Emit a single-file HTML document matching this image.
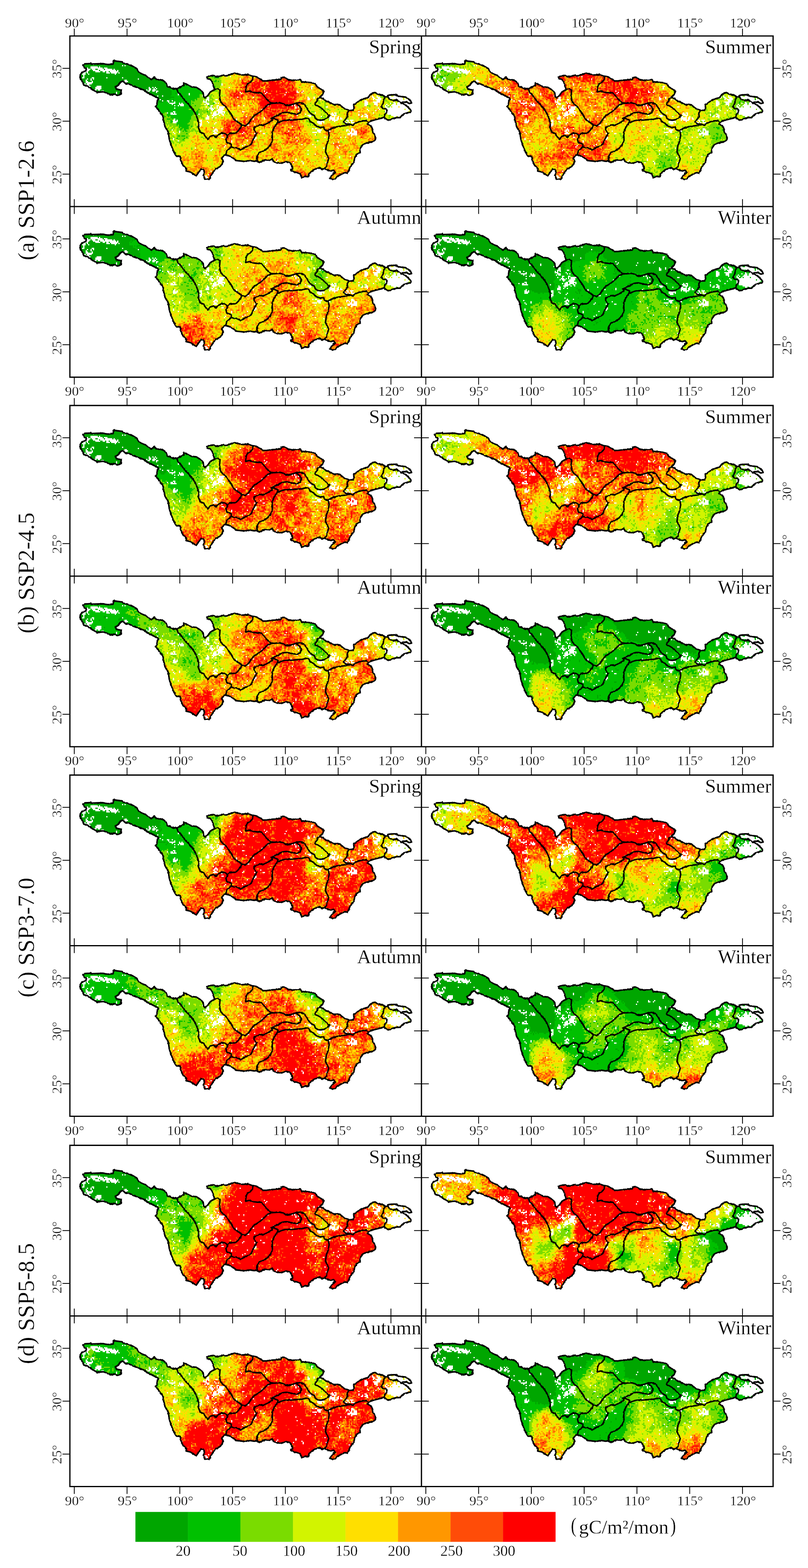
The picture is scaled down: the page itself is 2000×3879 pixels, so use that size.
<!DOCTYPE html>
<html lang="en"><head><meta charset="utf-8"><title>Seasonal maps</title>
<style>html,body{margin:0;padding:0;background:#fff}body{width:2000px;height:3879px;overflow:hidden}svg{display:block}text{font-family:'Liberation Serif', serif;fill:#000;stroke:#fff;stroke-width:0.45px}</style></head><body>
<svg width="2000" height="3879" viewBox="0 0 2000 3879">
<rect width="2000" height="3879" fill="#fff"/>
<defs>
<path id="op" d="M31.9,71.5 36.5,68.6 47.8,68.1 51.2,66.3 52.3,69.2 65.8,68.6 81.6,68.1 92.9,70.4 106.5,69.2 108.3,60.2 113.3,61.8 129.1,63.6 132.5,67 142.6,69.2 153.9,73.8 165.2,80.5 169.8,88.4 178.8,94.1 187.8,97.5 194.6,103.1 201.4,107.6 209.3,100.9 213.8,107.6 221.7,107.6 230.7,109.9 237.5,115.5 240.9,124.6 246.6,126.4 255.6,130.2 264.6,130.2 281,122.3 282.1,115.5 292.3,121.2 301.3,125.7 312.6,126.8 323.9,133.6 329.6,140.4 330.7,149.4 334.1,152.8 342,146 347.6,138.1 353.3,134.8 357.8,132.5 355.5,124.6 352.1,113.3 346.5,106.5 339.7,105.4 338.6,102 344.2,98.6 355.5,97.5 364.6,100.9 373.6,98.6 380.4,96.3 387.2,98.6 396.2,95.2 407.5,91.8 416.5,94.1 427.8,96.3 439.1,95.2 450.4,98.6 461.7,100.9 470.7,106.5 477.5,111 487.4,110.7 498.7,108.9 510,108.4 521.3,107.3 523.6,102.8 530.4,101.7 539.4,107.3 550.7,109.6 562,108.4 569.9,107.3 573.3,113 584.6,114.1 598.1,115.2 607.2,118.6 611.7,125.4 620.7,131 628.6,136.7 625.2,144.1 618.4,150.9 627.4,155.4 634.2,161 641,163.3 646.6,166.7 654.5,170.1 661.3,168.9 668.1,170.1 674.9,176.8 681.6,180.2 690.7,183.6 699.7,183.6 703.1,178 702,170.1 708.8,165.5 717.8,158.8 729.1,154.3 738.1,152 742.6,145.2 749.4,140.7 755.1,139.6 760.7,143 769.8,145.2 776.5,147.5 781,150.9 786.7,149.7 787.8,146.3 799.1,145.2 808.2,145.2 810.4,148.6 821.7,149.7 830.7,150.9 837.5,155.4 843.2,159.9 845.4,165.5 839.8,166.7 833,163.3 824,163.3 819.4,165.5 828.5,168.9 835.3,174.6 842,181.4 844.3,187 837.5,189.3 828.5,191.5 821.7,196 817.2,201.7 808.2,201.7 799.1,204 792.3,207.3 785.6,207.3 781,204 777.7,200.6 772,202.8 763,205.1 753.9,207.3 744.9,209.6 740.4,213 735.9,217.5 744.9,222 748.3,228.8 749.4,237.8 755.1,244.6 756.2,255.9 751.7,260.4 742.6,262.7 733.6,264.9 726.8,267.2 720.1,274 717.8,283 718.2,288.1 709.1,292.7 704.6,301.7 702.4,313 697.9,317.5 692.2,326.5 689.9,333.3 686.6,339 679.8,337.8 670.7,342.4 661.7,346.9 657.2,352.5 650.4,354.8 643.6,351.4 645.9,346.9 650.4,342.4 656.1,336.7 652.7,332.2 643.6,333.3 636.9,331.1 630.1,327.7 623.3,329.9 618.8,325.4 614.3,326.5 605.2,329.9 598.5,334.4 591.7,340.1 589.4,348 580.4,346.9 573.6,350.3 570.2,341.2 562.3,337.8 553.3,335.6 546.5,331.1 551,326.5 548.8,319.8 544.2,313 535.2,310.7 523.9,314.1 512.6,314.1 503.6,309.6 500.2,304 494.5,307.3 485.5,306.2 476.5,308.5 468.6,313 462.9,308.5 456.1,309.6 444.3,307.8 433,310.1 421.7,309 410.4,307.8 405.9,303.3 396.9,297.7 387.8,294.3 382.2,294.3 375.4,302.2 378.8,307.8 376.5,316.9 369.8,323.7 360.7,328.2 353.9,337.2 348.3,346.2 344.9,354.8 340.4,353 333.6,354.1 330.2,344 332.5,339.5 331.3,329.3 324.6,329.3 320.1,334.9 312.1,345.8 306.5,341.7 297.5,336.1 287.3,333.8 288.4,328.2 279.4,319.1 274.9,310.1 272.6,297.7 262.4,296.5 255.7,283 250,269.4 245.5,253.6 243.2,237.8 235.3,224.3 231.9,210.7 229.7,197.1 220.7,185.8 212.7,174.6 211.5,174.3 214.9,169.8 216.1,160.7 218.3,154 210.4,149.4 199.1,143.8 190.1,139.3 183.3,133.6 174.3,130.2 165.2,126.8 156.2,123.5 147.2,118.9 138.1,117.8 130.2,111 123.4,115.5 120.1,121.2 112.1,125.7 115.5,131.4 126.8,133.6 125.7,143.8 117.8,146.7 111,143.8 102,145.4 92.9,141.5 81.6,137.7 68.1,139.3 63.6,137 52.3,130.2 43.2,123.5 34.2,121.2 30.8,113.3 26.3,106.5 25.2,96.3 29.7,89.6 38.7,86.2 41,80.5 35.3,78.3Z"/>
<clipPath id="bc0"><use href="#op" x="0.00" y="0.00"/></clipPath>
<clipPath id="bc1"><use href="#op" x="0.20" y="0.00"/></clipPath>
<clipPath id="bc2"><use href="#op" x="0.00" y="0.05"/></clipPath>
<clipPath id="bc3"><use href="#op" x="0.20" y="0.05"/></clipPath>
<clipPath id="bc4"><use href="#op" x="0.00" y="0.15"/></clipPath>
<clipPath id="bc5"><use href="#op" x="0.20" y="0.15"/></clipPath>
<clipPath id="bc6"><use href="#op" x="0.00" y="0.20"/></clipPath>
<clipPath id="bc7"><use href="#op" x="0.20" y="0.20"/></clipPath>
<clipPath id="bc8"><use href="#op" x="0.00" y="0.40"/></clipPath>
<clipPath id="bc9"><use href="#op" x="0.20" y="0.40"/></clipPath>
<clipPath id="bc10"><use href="#op" x="0.00" y="0.45"/></clipPath>
<clipPath id="bc11"><use href="#op" x="0.20" y="0.45"/></clipPath>
<clipPath id="bc12"><use href="#op" x="0.00" y="0.40"/></clipPath>
<clipPath id="bc13"><use href="#op" x="0.20" y="0.40"/></clipPath>
<clipPath id="bc14"><use href="#op" x="0.00" y="0.45"/></clipPath>
<clipPath id="bc15"><use href="#op" x="0.20" y="0.45"/></clipPath>
<g id="ol" fill="none" stroke="#000" stroke-linejoin="round" stroke-linecap="round"><use href="#op" stroke-width="3.9"/>
<path stroke-width="3.7" d="M264.6,130.2 266.9,138.1 273.7,144.9 281.6,156.2 285,161 292.9,167.8 302,179.1 309.9,190.4 315.5,203.9 318.9,215.2 317.8,226.5 322.3,237.8 331.3,241.2 334.7,249.1 341.5,255.9 347.2,248 355.1,245.7 360.7,250.2 368.6,243.5 374.3,240.1 381,240.1 386.7,242.8 390.5,246.4 M357.8,132.5 364.6,130.2 371.3,133.6 370.2,147.2 371.3,158.5 377,167.5 384.9,174.3 391.7,183.3 398.5,192.4 403,201.4 409.8,209.3 418.8,214.9 424.4,219.5 422.8,226.5 417.2,233.3 410.4,240.1 401.4,240.5 394.6,240.1 390.5,246.4 M390.5,246.4 386,254.8 387.8,262.7 399.1,267.2 399.1,274 394.6,278.5 387.8,284.1 386.7,289.8 385.1,293.8 M399.1,274 405.9,276.2 414.9,277.3 422.8,281.9 430.7,276.2 439.8,272.8 448.8,267.2 453.3,255.9 462.4,240.1 455.6,233.3 455.6,226.5 469.1,219.7 478.2,220.9 489.5,215.2 500.8,208.4 498.7,203.3 501,202.2 507.8,198.8 516.8,194.3 525.8,189.8 534.9,188.6 543.9,189.8 552.9,192 562,193.2 569.9,189.8 572.1,180.7 568.8,174 559.7,166 M424,219.7 433,222 439.8,218.6 446.6,208.4 455.6,197.1 466.9,190.4 478.2,181.3 489.5,170 498.5,166.6 496.5,164.9 M452.7,99.7 451.5,108.8 445.9,114.4 439.1,117.8 435.7,126.8 434.6,138.1 443.6,135.9 454.9,139.3 464,140.4 473,140.4 479.8,147.2 486.6,156.2 495.6,164.1 496.5,164.9 505.5,166 519.1,164.9 528.1,167.2 534.9,171.7 543.9,170.6 552.9,168.3 559.7,166 568.8,164.9 577.8,167.2 584.6,175.1 589.1,183 593.6,189.8 600.4,194.3 604.9,196.5 607.2,203.3 613.9,207.8 625.2,207.8 634.3,204.4 638.8,199.9 643.3,196.5 638.8,194.3 634.3,189.8 627.5,183 620.7,177.3 613.9,172.8 607.2,170.6 606,167.2 611.7,160.4 613.9,153.6 620.7,151.4 M501,203.3 514.5,207.8 514.9,209.1 512.6,215.8 505.8,224.9 501.3,236.2 500.2,247.5 501.3,258.8 496.8,267.8 492.3,274.6 485.5,280.2 476.5,284.8 468.6,288.1 464,294.9 462.9,304 464,310.7 M512.6,215.8 523.9,210.2 532.9,207.9 546.5,207.9 560.1,206.8 573.6,205.7 584.9,203.4 591.7,204.6 593.9,211.3 603,215.8 609.8,222.6 618.8,226 627.8,224.9 630.1,231.7 639.1,233.9 M639.1,233.9 641.4,245.2 639.1,258.8 634.6,270.1 632.3,285.9 636.9,294.9 640.2,304 636.9,313 635.7,322 630.1,327.7 M636.5,234.9 645.6,229.3 659.1,224.8 670.4,222.5 681.7,221.4 690.7,219.1 692.9,217.5 699.7,220.9 706.5,215.2 715.5,211.9 724.6,209.6 733.6,209.6 740.4,213 M690.7,183.6 686.2,190.4 687.3,199.4 681.6,206.2 677.1,213 681.6,216.4 685,217.5 692.9,217.5 M781,150.9 776.5,156.5 775.4,165.5 770.9,174.6 774.3,179.1 783.3,180.2 784.4,188.1 778.8,194.9 777.7,200.6 M786.7,149.7 790.1,155.4 799.1,159.9 808.2,157.6 814.9,162.2 819.4,165.5"/></g>
<path id="hl" fill="#fff" shape-rendering="crispEdges" d="M81,66h3v3h-3zM57,69h3v3h-3zM141,69h3v3h-3zM129,72h3v3h-3zM135,72h3v3h-3zM51,75h18v3h-18zM72,75h3v3h-3zM39,78h6v3h-6zM51,78h30v3h-30zM84,78h9v3h-9zM33,81h3v3h-3zM42,81h9v3h-9zM54,81h9v3h-9zM69,81h15v3h-15zM87,81h18v3h-18zM108,81h3v3h-3zM36,84h12v3h-12zM57,84h15v3h-15zM75,84h39v3h-39zM117,84h3v3h-3zM30,87h15v3h-15zM63,87h12v3h-12zM81,87h6v3h-6zM90,87h6v3h-6zM99,87h21v3h-21zM33,90h6v3h-6zM42,90h3v3h-3zM90,90h9v3h-9zM102,90h15v3h-15zM120,90h3v3h-3zM30,93h9v3h-9zM45,93h3v3h-3zM111,93h3v3h-3zM186,93h3v3h-3zM33,96h3v3h-3zM33,99h3v3h-3zM207,99h3v3h-3zM387,99h3v3h-3zM396,99h3v3h-3zM30,102h6v3h-6zM54,102h6v3h-6zM90,102h3v3h-3zM129,102h3v3h-3zM42,105h3v3h-3zM51,105h3v3h-3zM57,105h3v3h-3zM168,105h3v3h-3zM420,105h3v3h-3zM471,105h3v3h-3zM39,108h3v3h-3zM51,108h3v3h-3zM135,108h6v3h-6zM39,111h6v3h-6zM54,111h3v3h-3zM132,111h12v3h-12zM39,114h18v3h-18zM135,114h6v3h-6zM30,117h3v3h-3zM36,117h3v3h-3zM42,117h12v3h-12zM120,117h3v3h-3zM375,117h3v3h-3zM30,120h18v3h-18zM375,120h3v3h-3zM33,123h18v3h-18zM66,123h12v3h-12zM597,123h6v3h-6zM42,126h3v3h-3zM63,126h15v3h-15zM195,126h3v3h-3zM204,126h3v3h-3zM210,126h3v3h-3zM393,126h3v3h-3zM597,126h3v3h-3zM63,129h15v3h-15zM195,129h6v3h-6zM207,129h3v3h-3zM213,129h3v3h-3zM597,129h3v3h-3zM57,132h9v3h-9zM69,132h6v3h-6zM177,132h6v3h-6zM189,132h3v3h-3zM195,132h6v3h-6zM204,132h9v3h-9zM60,135h3v3h-3zM78,135h6v3h-6zM192,135h6v3h-6zM204,135h6v3h-6zM213,135h6v3h-6zM480,135h3v3h-3zM561,135h3v3h-3zM576,135h3v3h-3zM114,138h3v3h-3zM189,138h3v3h-3zM213,138h3v3h-3zM420,138h3v3h-3zM486,138h3v3h-3zM534,138h3v3h-3zM561,138h6v3h-6zM573,138h3v3h-3zM87,141h3v3h-3zM114,141h3v3h-3zM267,141h6v3h-6zM294,141h3v3h-3zM423,141h3v3h-3zM483,141h3v3h-3zM111,144h3v3h-3zM267,144h3v3h-3zM294,144h3v3h-3zM531,144h3v3h-3zM795,144h3v3h-3zM117,147h3v3h-3zM204,147h3v3h-3zM216,147h3v3h-3zM228,147h3v3h-3zM327,147h3v3h-3zM741,147h3v3h-3zM747,147h3v3h-3zM759,147h3v3h-3zM789,147h6v3h-6zM801,147h12v3h-12zM339,150h6v3h-6zM414,150h3v3h-3zM453,150h3v3h-3zM588,150h3v3h-3zM603,150h3v3h-3zM615,150h3v3h-3zM738,150h6v3h-6zM747,150h6v3h-6zM759,150h9v3h-9zM789,150h33v3h-33zM339,153h6v3h-6zM588,153h6v3h-6zM603,153h3v3h-3zM738,153h3v3h-3zM750,153h6v3h-6zM762,153h9v3h-9zM792,153h33v3h-33zM828,153h3v3h-3zM837,153h3v3h-3zM222,156h3v3h-3zM336,156h9v3h-9zM360,156h6v3h-6zM588,156h6v3h-6zM618,156h3v3h-3zM624,156h3v3h-3zM750,156h3v3h-3zM756,156h15v3h-15zM804,156h21v3h-21zM828,156h15v3h-15zM228,159h3v3h-3zM240,159h6v3h-6zM252,159h3v3h-3zM330,159h3v3h-3zM336,159h3v3h-3zM342,159h3v3h-3zM729,159h6v3h-6zM759,159h9v3h-9zM810,159h33v3h-33zM243,162h3v3h-3zM258,162h3v3h-3zM330,162h9v3h-9zM357,162h3v3h-3zM729,162h9v3h-9zM750,162h18v3h-18zM801,162h3v3h-3zM813,162h15v3h-15zM837,162h6v3h-6zM246,165h15v3h-15zM270,165h3v3h-3zM276,165h3v3h-3zM336,165h9v3h-9zM360,165h3v3h-3zM366,165h3v3h-3zM729,165h9v3h-9zM753,165h9v3h-9zM792,165h3v3h-3zM801,165h6v3h-6zM810,165h21v3h-21zM252,168h3v3h-3zM270,168h12v3h-12zM333,168h3v3h-3zM339,168h6v3h-6zM555,168h3v3h-3zM729,168h9v3h-9zM753,168h9v3h-9zM783,168h3v3h-3zM798,168h9v3h-9zM810,168h24v3h-24zM258,171h3v3h-3zM267,171h3v3h-3zM273,171h9v3h-9zM348,171h6v3h-6zM363,171h6v3h-6zM417,171h3v3h-3zM429,171h3v3h-3zM489,171h3v3h-3zM549,171h3v3h-3zM555,171h3v3h-3zM729,171h6v3h-6zM759,171h3v3h-3zM780,171h3v3h-3zM786,171h3v3h-3zM795,171h42v3h-42zM336,174h3v3h-3zM348,174h3v3h-3zM363,174h3v3h-3zM369,174h15v3h-15zM558,174h3v3h-3zM564,174h3v3h-3zM633,174h6v3h-6zM780,174h6v3h-6zM792,174h3v3h-3zM798,174h15v3h-15zM816,174h24v3h-24zM258,177h3v3h-3zM345,177h9v3h-9zM357,177h3v3h-3zM363,177h3v3h-3zM369,177h12v3h-12zM558,177h3v3h-3zM762,177h3v3h-3zM783,177h57v3h-57zM342,180h3v3h-3zM348,180h9v3h-9zM366,180h15v3h-15zM474,180h3v3h-3zM735,180h3v3h-3zM765,180h3v3h-3zM780,180h48v3h-48zM831,180h9v3h-9zM351,183h3v3h-3zM363,183h15v3h-15zM564,183h3v3h-3zM738,183h3v3h-3zM756,183h3v3h-3zM780,183h60v3h-60zM843,183h3v3h-3zM255,186h6v3h-6zM357,186h6v3h-6zM366,186h18v3h-18zM426,186h6v3h-6zM714,186h3v3h-3zM780,186h57v3h-57zM840,186h3v3h-3zM240,189h3v3h-3zM249,189h6v3h-6zM258,189h3v3h-3zM348,189h3v3h-3zM354,189h9v3h-9zM366,189h12v3h-12zM381,189h3v3h-3zM606,189h3v3h-3zM648,189h3v3h-3zM654,189h6v3h-6zM750,189h3v3h-3zM780,189h60v3h-60zM249,192h15v3h-15zM318,192h3v3h-3zM354,192h15v3h-15zM375,192h6v3h-6zM582,192h3v3h-3zM645,192h9v3h-9zM657,192h3v3h-3zM714,192h3v3h-3zM729,192h6v3h-6zM786,192h39v3h-39zM831,192h3v3h-3zM339,195h3v3h-3zM351,195h12v3h-12zM369,195h3v3h-3zM378,195h3v3h-3zM561,195h3v3h-3zM588,195h12v3h-12zM642,195h3v3h-3zM648,195h12v3h-12zM714,195h3v3h-3zM723,195h3v3h-3zM732,195h6v3h-6zM795,195h27v3h-27zM339,198h6v3h-6zM354,198h3v3h-3zM435,198h3v3h-3zM504,198h6v3h-6zM591,198h6v3h-6zM621,198h3v3h-3zM639,198h9v3h-9zM654,198h3v3h-3zM663,198h3v3h-3zM720,198h6v3h-6zM729,198h9v3h-9zM801,198h6v3h-6zM810,198h6v3h-6zM336,201h9v3h-9zM351,201h3v3h-3zM360,201h3v3h-3zM480,201h3v3h-3zM642,201h15v3h-15zM660,201h6v3h-6zM669,201h3v3h-3zM735,201h3v3h-3zM258,204h3v3h-3zM336,204h9v3h-9zM411,204h3v3h-3zM453,204h3v3h-3zM480,204h3v3h-3zM546,204h3v3h-3zM642,204h15v3h-15zM660,204h6v3h-6zM669,204h6v3h-6zM255,207h6v3h-6zM264,207h3v3h-3zM321,207h6v3h-6zM411,207h3v3h-3zM618,207h3v3h-3zM642,207h3v3h-3zM648,207h15v3h-15zM684,207h6v3h-6zM693,207h9v3h-9zM255,210h12v3h-12zM321,210h6v3h-6zM339,210h3v3h-3zM414,210h3v3h-3zM612,210h18v3h-18zM654,210h3v3h-3zM678,210h3v3h-3zM687,210h3v3h-3zM696,210h3v3h-3zM255,213h9v3h-9zM324,213h3v3h-3zM342,213h3v3h-3zM360,213h3v3h-3zM612,213h12v3h-12zM627,213h3v3h-3zM681,213h6v3h-6zM690,213h3v3h-3zM696,213h9v3h-9zM321,216h6v3h-6zM357,216h3v3h-3zM456,216h3v3h-3zM615,216h9v3h-9zM702,216h3v3h-3zM321,219h6v3h-6zM438,219h6v3h-6zM606,219h3v3h-3zM321,222h3v3h-3zM549,222h3v3h-3zM354,225h3v3h-3zM360,228h3v3h-3zM375,228h3v3h-3zM600,228h3v3h-3zM606,228h6v3h-6zM642,228h3v3h-3zM696,228h6v3h-6zM252,231h3v3h-3zM357,231h9v3h-9zM612,231h12v3h-12zM684,231h6v3h-6zM696,231h9v3h-9zM270,234h3v3h-3zM354,234h6v3h-6zM363,234h3v3h-3zM471,234h3v3h-3zM540,234h3v3h-3zM612,234h9v3h-9zM639,234h6v3h-6zM684,234h3v3h-3zM690,234h3v3h-3zM696,234h3v3h-3zM702,234h9v3h-9zM255,237h3v3h-3zM270,237h3v3h-3zM357,237h6v3h-6zM429,237h3v3h-3zM600,237h12v3h-12zM615,237h6v3h-6zM693,237h6v3h-6zM702,237h9v3h-9zM750,237h3v3h-3zM258,240h3v3h-3zM354,240h12v3h-12zM426,240h3v3h-3zM456,240h3v3h-3zM477,240h6v3h-6zM687,240h24v3h-24zM375,243h3v3h-3zM606,243h3v3h-3zM687,243h6v3h-6zM696,243h15v3h-15zM696,246h3v3h-3zM375,249h6v3h-6zM456,249h6v3h-6zM558,249h3v3h-3zM630,249h3v3h-3zM669,249h3v3h-3zM681,249h3v3h-3zM255,252h3v3h-3zM453,252h9v3h-9zM255,255h3v3h-3zM456,255h3v3h-3zM267,258h3v3h-3zM399,258h3v3h-3zM438,258h3v3h-3zM561,258h3v3h-3zM612,258h3v3h-3zM399,261h3v3h-3zM663,261h3v3h-3zM651,264h3v3h-3zM432,267h3v3h-3zM573,267h3v3h-3zM600,267h3v3h-3zM384,270h3v3h-3zM426,270h3v3h-3zM666,270h3v3h-3zM381,273h3v3h-3zM606,273h3v3h-3zM660,273h3v3h-3zM309,276h3v3h-3zM627,276h3v3h-3zM663,276h3v3h-3zM351,279h3v3h-3zM348,282h3v3h-3zM588,282h3v3h-3zM402,291h3v3h-3zM588,291h3v3h-3zM606,291h3v3h-3zM666,297h3v3h-3zM693,297h3v3h-3zM630,300h3v3h-3zM666,300h3v3h-3zM558,303h3v3h-3zM513,306h3v3h-3zM558,306h3v3h-3zM276,309h3v3h-3zM510,309h3v3h-3zM573,309h3v3h-3zM702,309h3v3h-3zM552,312h3v3h-3zM576,312h3v3h-3zM633,312h3v3h-3zM699,312h3v3h-3zM576,315h3v3h-3zM276,318h3v3h-3zM690,318h3v3h-3zM330,330h3v3h-3zM348,333h3v3h-3zM342,342h3v3h-3zM333,345h6v3h-6zM336,348h6v3h-6zM336,351h6v3h-6z"/>
<filter id="f0" x="0" y="0" width="873" height="423" filterUnits="userSpaceOnUse" primitiveUnits="userSpaceOnUse" color-interpolation-filters="sRGB"><feGaussianBlur in="SourceGraphic" stdDeviation="8" result="b"/><feTurbulence type="fractalNoise" baseFrequency="0.045" numOctaves="2" seed="3" result="t1"/><feColorMatrix in="t1" type="matrix" values="1 0 0 0 0 1 0 0 0 0 1 0 0 0 0 0 0 0 0 1" result="n1"/><feTurbulence type="fractalNoise" baseFrequency="0.2" numOctaves="2" seed="53" result="t2"/><feColorMatrix in="t2" type="matrix" values="1 0 0 0 0 1 0 0 0 0 1 0 0 0 0 0 0 0 0 1" result="n2"/><feComposite in="n1" in2="n2" operator="arithmetic" k1="0" k2="0.450" k3="0.550" k4="0" result="n"/><feComposite in="b" in2="n" operator="arithmetic" k1="1.850" k2="0.075" k3="-0.190" k4="0.095" result="c"/><feComponentTransfer in="c" result="d"><feFuncR type="discrete" tableValues="0.000 0.000 0.000 0.478 0.824 1.000 1.000 1.000 1.000 1.000 1.000 1.000"/><feFuncG type="discrete" tableValues="0.651 0.651 0.753 0.863 0.957 0.875 0.592 0.298 0.000 0.000 0.000 0.000"/><feFuncB type="discrete" tableValues="0.000 0.000 0.000 0.000 0.000 0.000 0.000 0.031 0.000 0.000 0.000 0.000"/></feComponentTransfer><feFlood x="1" y="1" width="1" height="1" flood-color="#000" result="dot"/><feOffset in="dot" dx="0" dy="0" x="0" y="0" width="3" height="3" result="cell"/><feTile in="cell" result="grid"/><feComposite in="d" in2="grid" operator="in" result="s"/><feMorphology in="s" operator="dilate" radius="1"/></filter>
<filter id="f1" x="0" y="0" width="873" height="423" filterUnits="userSpaceOnUse" primitiveUnits="userSpaceOnUse" color-interpolation-filters="sRGB"><feGaussianBlur in="SourceGraphic" stdDeviation="8" result="b"/><feTurbulence type="fractalNoise" baseFrequency="0.045" numOctaves="2" seed="10" result="t1"/><feColorMatrix in="t1" type="matrix" values="1 0 0 0 0 1 0 0 0 0 1 0 0 0 0 0 0 0 0 1" result="n1"/><feTurbulence type="fractalNoise" baseFrequency="0.2" numOctaves="2" seed="60" result="t2"/><feColorMatrix in="t2" type="matrix" values="1 0 0 0 0 1 0 0 0 0 1 0 0 0 0 0 0 0 0 1" result="n2"/><feComposite in="n1" in2="n2" operator="arithmetic" k1="0" k2="0.450" k3="0.550" k4="0" result="n"/><feComposite in="b" in2="n" operator="arithmetic" k1="1.850" k2="0.075" k3="-0.190" k4="0.095" result="c"/><feComponentTransfer in="c" result="d"><feFuncR type="discrete" tableValues="0.000 0.000 0.000 0.478 0.824 1.000 1.000 1.000 1.000 1.000 1.000 1.000"/><feFuncG type="discrete" tableValues="0.651 0.651 0.753 0.863 0.957 0.875 0.592 0.298 0.000 0.000 0.000 0.000"/><feFuncB type="discrete" tableValues="0.000 0.000 0.000 0.000 0.000 0.000 0.000 0.031 0.000 0.000 0.000 0.000"/></feComponentTransfer><feFlood x="1" y="1" width="1" height="1" flood-color="#000" result="dot"/><feOffset in="dot" dx="0" dy="0" x="0" y="0" width="3" height="3" result="cell"/><feTile in="cell" result="grid"/><feComposite in="d" in2="grid" operator="in" result="s"/><feMorphology in="s" operator="dilate" radius="1"/></filter>
<filter id="f2" x="0" y="0" width="873" height="423" filterUnits="userSpaceOnUse" primitiveUnits="userSpaceOnUse" color-interpolation-filters="sRGB"><feGaussianBlur in="SourceGraphic" stdDeviation="8" result="b"/><feTurbulence type="fractalNoise" baseFrequency="0.045" numOctaves="2" seed="17" result="t1"/><feColorMatrix in="t1" type="matrix" values="1 0 0 0 0 1 0 0 0 0 1 0 0 0 0 0 0 0 0 1" result="n1"/><feTurbulence type="fractalNoise" baseFrequency="0.2" numOctaves="2" seed="67" result="t2"/><feColorMatrix in="t2" type="matrix" values="1 0 0 0 0 1 0 0 0 0 1 0 0 0 0 0 0 0 0 1" result="n2"/><feComposite in="n1" in2="n2" operator="arithmetic" k1="0" k2="0.450" k3="0.550" k4="0" result="n"/><feComposite in="b" in2="n" operator="arithmetic" k1="1.850" k2="0.075" k3="-0.190" k4="0.095" result="c"/><feComponentTransfer in="c" result="d"><feFuncR type="discrete" tableValues="0.000 0.000 0.000 0.478 0.824 1.000 1.000 1.000 1.000 1.000 1.000 1.000"/><feFuncG type="discrete" tableValues="0.651 0.651 0.753 0.863 0.957 0.875 0.592 0.298 0.000 0.000 0.000 0.000"/><feFuncB type="discrete" tableValues="0.000 0.000 0.000 0.000 0.000 0.000 0.000 0.031 0.000 0.000 0.000 0.000"/></feComponentTransfer><feFlood x="1" y="1" width="1" height="1" flood-color="#000" result="dot"/><feOffset in="dot" dx="0" dy="0" x="0" y="0" width="3" height="3" result="cell"/><feTile in="cell" result="grid"/><feComposite in="d" in2="grid" operator="in" result="s"/><feMorphology in="s" operator="dilate" radius="1"/></filter>
<filter id="f3" x="0" y="0" width="873" height="423" filterUnits="userSpaceOnUse" primitiveUnits="userSpaceOnUse" color-interpolation-filters="sRGB"><feGaussianBlur in="SourceGraphic" stdDeviation="8" result="b"/><feTurbulence type="fractalNoise" baseFrequency="0.045" numOctaves="2" seed="24" result="t1"/><feColorMatrix in="t1" type="matrix" values="1 0 0 0 0 1 0 0 0 0 1 0 0 0 0 0 0 0 0 1" result="n1"/><feTurbulence type="fractalNoise" baseFrequency="0.2" numOctaves="2" seed="74" result="t2"/><feColorMatrix in="t2" type="matrix" values="1 0 0 0 0 1 0 0 0 0 1 0 0 0 0 0 0 0 0 1" result="n2"/><feComposite in="n1" in2="n2" operator="arithmetic" k1="0" k2="0.450" k3="0.550" k4="0" result="n"/><feComposite in="b" in2="n" operator="arithmetic" k1="1.850" k2="0.075" k3="-0.190" k4="0.095" result="c"/><feComponentTransfer in="c" result="d"><feFuncR type="discrete" tableValues="0.000 0.000 0.000 0.478 0.824 1.000 1.000 1.000 1.000 1.000 1.000 1.000"/><feFuncG type="discrete" tableValues="0.651 0.651 0.753 0.863 0.957 0.875 0.592 0.298 0.000 0.000 0.000 0.000"/><feFuncB type="discrete" tableValues="0.000 0.000 0.000 0.000 0.000 0.000 0.000 0.031 0.000 0.000 0.000 0.000"/></feComponentTransfer><feFlood x="1" y="1" width="1" height="1" flood-color="#000" result="dot"/><feOffset in="dot" dx="0" dy="0" x="0" y="0" width="3" height="3" result="cell"/><feTile in="cell" result="grid"/><feComposite in="d" in2="grid" operator="in" result="s"/><feMorphology in="s" operator="dilate" radius="1"/></filter>
<filter id="f4" x="0" y="0" width="873" height="423" filterUnits="userSpaceOnUse" primitiveUnits="userSpaceOnUse" color-interpolation-filters="sRGB"><feGaussianBlur in="SourceGraphic" stdDeviation="8" result="b"/><feTurbulence type="fractalNoise" baseFrequency="0.045" numOctaves="2" seed="4" result="t1"/><feColorMatrix in="t1" type="matrix" values="1 0 0 0 0 1 0 0 0 0 1 0 0 0 0 0 0 0 0 1" result="n1"/><feTurbulence type="fractalNoise" baseFrequency="0.2" numOctaves="2" seed="54" result="t2"/><feColorMatrix in="t2" type="matrix" values="1 0 0 0 0 1 0 0 0 0 1 0 0 0 0 0 0 0 0 1" result="n2"/><feComposite in="n1" in2="n2" operator="arithmetic" k1="0" k2="0.450" k3="0.550" k4="0" result="n"/><feComposite in="b" in2="n" operator="arithmetic" k1="1.850" k2="0.075" k3="-0.190" k4="0.095" result="c"/><feComponentTransfer in="c" result="d"><feFuncR type="discrete" tableValues="0.000 0.000 0.000 0.478 0.824 1.000 1.000 1.000 1.000 1.000 1.000 1.000"/><feFuncG type="discrete" tableValues="0.651 0.651 0.753 0.863 0.957 0.875 0.592 0.298 0.000 0.000 0.000 0.000"/><feFuncB type="discrete" tableValues="0.000 0.000 0.000 0.000 0.000 0.000 0.000 0.031 0.000 0.000 0.000 0.000"/></feComponentTransfer><feFlood x="1" y="1" width="1" height="1" flood-color="#000" result="dot"/><feOffset in="dot" dx="0" dy="0" x="0" y="0" width="3" height="3" result="cell"/><feTile in="cell" result="grid"/><feComposite in="d" in2="grid" operator="in" result="s"/><feMorphology in="s" operator="dilate" radius="1"/></filter>
<filter id="f5" x="0" y="0" width="873" height="423" filterUnits="userSpaceOnUse" primitiveUnits="userSpaceOnUse" color-interpolation-filters="sRGB"><feGaussianBlur in="SourceGraphic" stdDeviation="8" result="b"/><feTurbulence type="fractalNoise" baseFrequency="0.045" numOctaves="2" seed="11" result="t1"/><feColorMatrix in="t1" type="matrix" values="1 0 0 0 0 1 0 0 0 0 1 0 0 0 0 0 0 0 0 1" result="n1"/><feTurbulence type="fractalNoise" baseFrequency="0.2" numOctaves="2" seed="61" result="t2"/><feColorMatrix in="t2" type="matrix" values="1 0 0 0 0 1 0 0 0 0 1 0 0 0 0 0 0 0 0 1" result="n2"/><feComposite in="n1" in2="n2" operator="arithmetic" k1="0" k2="0.450" k3="0.550" k4="0" result="n"/><feComposite in="b" in2="n" operator="arithmetic" k1="1.850" k2="0.075" k3="-0.190" k4="0.095" result="c"/><feComponentTransfer in="c" result="d"><feFuncR type="discrete" tableValues="0.000 0.000 0.000 0.478 0.824 1.000 1.000 1.000 1.000 1.000 1.000 1.000"/><feFuncG type="discrete" tableValues="0.651 0.651 0.753 0.863 0.957 0.875 0.592 0.298 0.000 0.000 0.000 0.000"/><feFuncB type="discrete" tableValues="0.000 0.000 0.000 0.000 0.000 0.000 0.000 0.031 0.000 0.000 0.000 0.000"/></feComponentTransfer><feFlood x="1" y="1" width="1" height="1" flood-color="#000" result="dot"/><feOffset in="dot" dx="0" dy="0" x="0" y="0" width="3" height="3" result="cell"/><feTile in="cell" result="grid"/><feComposite in="d" in2="grid" operator="in" result="s"/><feMorphology in="s" operator="dilate" radius="1"/></filter>
<filter id="f6" x="0" y="0" width="873" height="423" filterUnits="userSpaceOnUse" primitiveUnits="userSpaceOnUse" color-interpolation-filters="sRGB"><feGaussianBlur in="SourceGraphic" stdDeviation="8" result="b"/><feTurbulence type="fractalNoise" baseFrequency="0.045" numOctaves="2" seed="18" result="t1"/><feColorMatrix in="t1" type="matrix" values="1 0 0 0 0 1 0 0 0 0 1 0 0 0 0 0 0 0 0 1" result="n1"/><feTurbulence type="fractalNoise" baseFrequency="0.2" numOctaves="2" seed="68" result="t2"/><feColorMatrix in="t2" type="matrix" values="1 0 0 0 0 1 0 0 0 0 1 0 0 0 0 0 0 0 0 1" result="n2"/><feComposite in="n1" in2="n2" operator="arithmetic" k1="0" k2="0.450" k3="0.550" k4="0" result="n"/><feComposite in="b" in2="n" operator="arithmetic" k1="1.850" k2="0.075" k3="-0.190" k4="0.095" result="c"/><feComponentTransfer in="c" result="d"><feFuncR type="discrete" tableValues="0.000 0.000 0.000 0.478 0.824 1.000 1.000 1.000 1.000 1.000 1.000 1.000"/><feFuncG type="discrete" tableValues="0.651 0.651 0.753 0.863 0.957 0.875 0.592 0.298 0.000 0.000 0.000 0.000"/><feFuncB type="discrete" tableValues="0.000 0.000 0.000 0.000 0.000 0.000 0.000 0.031 0.000 0.000 0.000 0.000"/></feComponentTransfer><feFlood x="1" y="1" width="1" height="1" flood-color="#000" result="dot"/><feOffset in="dot" dx="0" dy="0" x="0" y="0" width="3" height="3" result="cell"/><feTile in="cell" result="grid"/><feComposite in="d" in2="grid" operator="in" result="s"/><feMorphology in="s" operator="dilate" radius="1"/></filter>
<filter id="f7" x="0" y="0" width="873" height="423" filterUnits="userSpaceOnUse" primitiveUnits="userSpaceOnUse" color-interpolation-filters="sRGB"><feGaussianBlur in="SourceGraphic" stdDeviation="8" result="b"/><feTurbulence type="fractalNoise" baseFrequency="0.045" numOctaves="2" seed="25" result="t1"/><feColorMatrix in="t1" type="matrix" values="1 0 0 0 0 1 0 0 0 0 1 0 0 0 0 0 0 0 0 1" result="n1"/><feTurbulence type="fractalNoise" baseFrequency="0.2" numOctaves="2" seed="75" result="t2"/><feColorMatrix in="t2" type="matrix" values="1 0 0 0 0 1 0 0 0 0 1 0 0 0 0 0 0 0 0 1" result="n2"/><feComposite in="n1" in2="n2" operator="arithmetic" k1="0" k2="0.450" k3="0.550" k4="0" result="n"/><feComposite in="b" in2="n" operator="arithmetic" k1="1.850" k2="0.075" k3="-0.190" k4="0.095" result="c"/><feComponentTransfer in="c" result="d"><feFuncR type="discrete" tableValues="0.000 0.000 0.000 0.478 0.824 1.000 1.000 1.000 1.000 1.000 1.000 1.000"/><feFuncG type="discrete" tableValues="0.651 0.651 0.753 0.863 0.957 0.875 0.592 0.298 0.000 0.000 0.000 0.000"/><feFuncB type="discrete" tableValues="0.000 0.000 0.000 0.000 0.000 0.000 0.000 0.031 0.000 0.000 0.000 0.000"/></feComponentTransfer><feFlood x="1" y="1" width="1" height="1" flood-color="#000" result="dot"/><feOffset in="dot" dx="0" dy="0" x="0" y="0" width="3" height="3" result="cell"/><feTile in="cell" result="grid"/><feComposite in="d" in2="grid" operator="in" result="s"/><feMorphology in="s" operator="dilate" radius="1"/></filter>
<filter id="f8" x="0" y="0" width="873" height="423" filterUnits="userSpaceOnUse" primitiveUnits="userSpaceOnUse" color-interpolation-filters="sRGB"><feGaussianBlur in="SourceGraphic" stdDeviation="8" result="b"/><feTurbulence type="fractalNoise" baseFrequency="0.045" numOctaves="2" seed="5" result="t1"/><feColorMatrix in="t1" type="matrix" values="1 0 0 0 0 1 0 0 0 0 1 0 0 0 0 0 0 0 0 1" result="n1"/><feTurbulence type="fractalNoise" baseFrequency="0.2" numOctaves="2" seed="55" result="t2"/><feColorMatrix in="t2" type="matrix" values="1 0 0 0 0 1 0 0 0 0 1 0 0 0 0 0 0 0 0 1" result="n2"/><feComposite in="n1" in2="n2" operator="arithmetic" k1="0" k2="0.450" k3="0.550" k4="0" result="n"/><feComposite in="b" in2="n" operator="arithmetic" k1="1.850" k2="0.075" k3="-0.190" k4="0.095" result="c"/><feComponentTransfer in="c" result="d"><feFuncR type="discrete" tableValues="0.000 0.000 0.000 0.478 0.824 1.000 1.000 1.000 1.000 1.000 1.000 1.000"/><feFuncG type="discrete" tableValues="0.651 0.651 0.753 0.863 0.957 0.875 0.592 0.298 0.000 0.000 0.000 0.000"/><feFuncB type="discrete" tableValues="0.000 0.000 0.000 0.000 0.000 0.000 0.000 0.031 0.000 0.000 0.000 0.000"/></feComponentTransfer><feFlood x="1" y="1" width="1" height="1" flood-color="#000" result="dot"/><feOffset in="dot" dx="0" dy="0" x="0" y="0" width="3" height="3" result="cell"/><feTile in="cell" result="grid"/><feComposite in="d" in2="grid" operator="in" result="s"/><feMorphology in="s" operator="dilate" radius="1"/></filter>
<filter id="f9" x="0" y="0" width="873" height="423" filterUnits="userSpaceOnUse" primitiveUnits="userSpaceOnUse" color-interpolation-filters="sRGB"><feGaussianBlur in="SourceGraphic" stdDeviation="8" result="b"/><feTurbulence type="fractalNoise" baseFrequency="0.045" numOctaves="2" seed="12" result="t1"/><feColorMatrix in="t1" type="matrix" values="1 0 0 0 0 1 0 0 0 0 1 0 0 0 0 0 0 0 0 1" result="n1"/><feTurbulence type="fractalNoise" baseFrequency="0.2" numOctaves="2" seed="62" result="t2"/><feColorMatrix in="t2" type="matrix" values="1 0 0 0 0 1 0 0 0 0 1 0 0 0 0 0 0 0 0 1" result="n2"/><feComposite in="n1" in2="n2" operator="arithmetic" k1="0" k2="0.450" k3="0.550" k4="0" result="n"/><feComposite in="b" in2="n" operator="arithmetic" k1="1.850" k2="0.075" k3="-0.190" k4="0.095" result="c"/><feComponentTransfer in="c" result="d"><feFuncR type="discrete" tableValues="0.000 0.000 0.000 0.478 0.824 1.000 1.000 1.000 1.000 1.000 1.000 1.000"/><feFuncG type="discrete" tableValues="0.651 0.651 0.753 0.863 0.957 0.875 0.592 0.298 0.000 0.000 0.000 0.000"/><feFuncB type="discrete" tableValues="0.000 0.000 0.000 0.000 0.000 0.000 0.000 0.031 0.000 0.000 0.000 0.000"/></feComponentTransfer><feFlood x="1" y="1" width="1" height="1" flood-color="#000" result="dot"/><feOffset in="dot" dx="0" dy="0" x="0" y="0" width="3" height="3" result="cell"/><feTile in="cell" result="grid"/><feComposite in="d" in2="grid" operator="in" result="s"/><feMorphology in="s" operator="dilate" radius="1"/></filter>
<filter id="f10" x="0" y="0" width="873" height="423" filterUnits="userSpaceOnUse" primitiveUnits="userSpaceOnUse" color-interpolation-filters="sRGB"><feGaussianBlur in="SourceGraphic" stdDeviation="8" result="b"/><feTurbulence type="fractalNoise" baseFrequency="0.045" numOctaves="2" seed="19" result="t1"/><feColorMatrix in="t1" type="matrix" values="1 0 0 0 0 1 0 0 0 0 1 0 0 0 0 0 0 0 0 1" result="n1"/><feTurbulence type="fractalNoise" baseFrequency="0.2" numOctaves="2" seed="69" result="t2"/><feColorMatrix in="t2" type="matrix" values="1 0 0 0 0 1 0 0 0 0 1 0 0 0 0 0 0 0 0 1" result="n2"/><feComposite in="n1" in2="n2" operator="arithmetic" k1="0" k2="0.450" k3="0.550" k4="0" result="n"/><feComposite in="b" in2="n" operator="arithmetic" k1="1.850" k2="0.075" k3="-0.190" k4="0.095" result="c"/><feComponentTransfer in="c" result="d"><feFuncR type="discrete" tableValues="0.000 0.000 0.000 0.478 0.824 1.000 1.000 1.000 1.000 1.000 1.000 1.000"/><feFuncG type="discrete" tableValues="0.651 0.651 0.753 0.863 0.957 0.875 0.592 0.298 0.000 0.000 0.000 0.000"/><feFuncB type="discrete" tableValues="0.000 0.000 0.000 0.000 0.000 0.000 0.000 0.031 0.000 0.000 0.000 0.000"/></feComponentTransfer><feFlood x="1" y="1" width="1" height="1" flood-color="#000" result="dot"/><feOffset in="dot" dx="0" dy="0" x="0" y="0" width="3" height="3" result="cell"/><feTile in="cell" result="grid"/><feComposite in="d" in2="grid" operator="in" result="s"/><feMorphology in="s" operator="dilate" radius="1"/></filter>
<filter id="f11" x="0" y="0" width="873" height="423" filterUnits="userSpaceOnUse" primitiveUnits="userSpaceOnUse" color-interpolation-filters="sRGB"><feGaussianBlur in="SourceGraphic" stdDeviation="8" result="b"/><feTurbulence type="fractalNoise" baseFrequency="0.045" numOctaves="2" seed="26" result="t1"/><feColorMatrix in="t1" type="matrix" values="1 0 0 0 0 1 0 0 0 0 1 0 0 0 0 0 0 0 0 1" result="n1"/><feTurbulence type="fractalNoise" baseFrequency="0.2" numOctaves="2" seed="76" result="t2"/><feColorMatrix in="t2" type="matrix" values="1 0 0 0 0 1 0 0 0 0 1 0 0 0 0 0 0 0 0 1" result="n2"/><feComposite in="n1" in2="n2" operator="arithmetic" k1="0" k2="0.450" k3="0.550" k4="0" result="n"/><feComposite in="b" in2="n" operator="arithmetic" k1="1.850" k2="0.075" k3="-0.190" k4="0.095" result="c"/><feComponentTransfer in="c" result="d"><feFuncR type="discrete" tableValues="0.000 0.000 0.000 0.478 0.824 1.000 1.000 1.000 1.000 1.000 1.000 1.000"/><feFuncG type="discrete" tableValues="0.651 0.651 0.753 0.863 0.957 0.875 0.592 0.298 0.000 0.000 0.000 0.000"/><feFuncB type="discrete" tableValues="0.000 0.000 0.000 0.000 0.000 0.000 0.000 0.031 0.000 0.000 0.000 0.000"/></feComponentTransfer><feFlood x="1" y="1" width="1" height="1" flood-color="#000" result="dot"/><feOffset in="dot" dx="0" dy="0" x="0" y="0" width="3" height="3" result="cell"/><feTile in="cell" result="grid"/><feComposite in="d" in2="grid" operator="in" result="s"/><feMorphology in="s" operator="dilate" radius="1"/></filter>
<filter id="f12" x="0" y="0" width="873" height="423" filterUnits="userSpaceOnUse" primitiveUnits="userSpaceOnUse" color-interpolation-filters="sRGB"><feGaussianBlur in="SourceGraphic" stdDeviation="8" result="b"/><feTurbulence type="fractalNoise" baseFrequency="0.045" numOctaves="2" seed="6" result="t1"/><feColorMatrix in="t1" type="matrix" values="1 0 0 0 0 1 0 0 0 0 1 0 0 0 0 0 0 0 0 1" result="n1"/><feTurbulence type="fractalNoise" baseFrequency="0.2" numOctaves="2" seed="56" result="t2"/><feColorMatrix in="t2" type="matrix" values="1 0 0 0 0 1 0 0 0 0 1 0 0 0 0 0 0 0 0 1" result="n2"/><feComposite in="n1" in2="n2" operator="arithmetic" k1="0" k2="0.450" k3="0.550" k4="0" result="n"/><feComposite in="b" in2="n" operator="arithmetic" k1="1.850" k2="0.075" k3="-0.190" k4="0.095" result="c"/><feComponentTransfer in="c" result="d"><feFuncR type="discrete" tableValues="0.000 0.000 0.000 0.478 0.824 1.000 1.000 1.000 1.000 1.000 1.000 1.000"/><feFuncG type="discrete" tableValues="0.651 0.651 0.753 0.863 0.957 0.875 0.592 0.298 0.000 0.000 0.000 0.000"/><feFuncB type="discrete" tableValues="0.000 0.000 0.000 0.000 0.000 0.000 0.000 0.031 0.000 0.000 0.000 0.000"/></feComponentTransfer><feFlood x="1" y="1" width="1" height="1" flood-color="#000" result="dot"/><feOffset in="dot" dx="0" dy="0" x="0" y="0" width="3" height="3" result="cell"/><feTile in="cell" result="grid"/><feComposite in="d" in2="grid" operator="in" result="s"/><feMorphology in="s" operator="dilate" radius="1"/></filter>
<filter id="f13" x="0" y="0" width="873" height="423" filterUnits="userSpaceOnUse" primitiveUnits="userSpaceOnUse" color-interpolation-filters="sRGB"><feGaussianBlur in="SourceGraphic" stdDeviation="8" result="b"/><feTurbulence type="fractalNoise" baseFrequency="0.045" numOctaves="2" seed="13" result="t1"/><feColorMatrix in="t1" type="matrix" values="1 0 0 0 0 1 0 0 0 0 1 0 0 0 0 0 0 0 0 1" result="n1"/><feTurbulence type="fractalNoise" baseFrequency="0.2" numOctaves="2" seed="63" result="t2"/><feColorMatrix in="t2" type="matrix" values="1 0 0 0 0 1 0 0 0 0 1 0 0 0 0 0 0 0 0 1" result="n2"/><feComposite in="n1" in2="n2" operator="arithmetic" k1="0" k2="0.450" k3="0.550" k4="0" result="n"/><feComposite in="b" in2="n" operator="arithmetic" k1="1.850" k2="0.075" k3="-0.190" k4="0.095" result="c"/><feComponentTransfer in="c" result="d"><feFuncR type="discrete" tableValues="0.000 0.000 0.000 0.478 0.824 1.000 1.000 1.000 1.000 1.000 1.000 1.000"/><feFuncG type="discrete" tableValues="0.651 0.651 0.753 0.863 0.957 0.875 0.592 0.298 0.000 0.000 0.000 0.000"/><feFuncB type="discrete" tableValues="0.000 0.000 0.000 0.000 0.000 0.000 0.000 0.031 0.000 0.000 0.000 0.000"/></feComponentTransfer><feFlood x="1" y="1" width="1" height="1" flood-color="#000" result="dot"/><feOffset in="dot" dx="0" dy="0" x="0" y="0" width="3" height="3" result="cell"/><feTile in="cell" result="grid"/><feComposite in="d" in2="grid" operator="in" result="s"/><feMorphology in="s" operator="dilate" radius="1"/></filter>
<filter id="f14" x="0" y="0" width="873" height="423" filterUnits="userSpaceOnUse" primitiveUnits="userSpaceOnUse" color-interpolation-filters="sRGB"><feGaussianBlur in="SourceGraphic" stdDeviation="8" result="b"/><feTurbulence type="fractalNoise" baseFrequency="0.045" numOctaves="2" seed="20" result="t1"/><feColorMatrix in="t1" type="matrix" values="1 0 0 0 0 1 0 0 0 0 1 0 0 0 0 0 0 0 0 1" result="n1"/><feTurbulence type="fractalNoise" baseFrequency="0.2" numOctaves="2" seed="70" result="t2"/><feColorMatrix in="t2" type="matrix" values="1 0 0 0 0 1 0 0 0 0 1 0 0 0 0 0 0 0 0 1" result="n2"/><feComposite in="n1" in2="n2" operator="arithmetic" k1="0" k2="0.450" k3="0.550" k4="0" result="n"/><feComposite in="b" in2="n" operator="arithmetic" k1="1.850" k2="0.075" k3="-0.190" k4="0.095" result="c"/><feComponentTransfer in="c" result="d"><feFuncR type="discrete" tableValues="0.000 0.000 0.000 0.478 0.824 1.000 1.000 1.000 1.000 1.000 1.000 1.000"/><feFuncG type="discrete" tableValues="0.651 0.651 0.753 0.863 0.957 0.875 0.592 0.298 0.000 0.000 0.000 0.000"/><feFuncB type="discrete" tableValues="0.000 0.000 0.000 0.000 0.000 0.000 0.000 0.031 0.000 0.000 0.000 0.000"/></feComponentTransfer><feFlood x="1" y="1" width="1" height="1" flood-color="#000" result="dot"/><feOffset in="dot" dx="0" dy="0" x="0" y="0" width="3" height="3" result="cell"/><feTile in="cell" result="grid"/><feComposite in="d" in2="grid" operator="in" result="s"/><feMorphology in="s" operator="dilate" radius="1"/></filter>
<filter id="f15" x="0" y="0" width="873" height="423" filterUnits="userSpaceOnUse" primitiveUnits="userSpaceOnUse" color-interpolation-filters="sRGB"><feGaussianBlur in="SourceGraphic" stdDeviation="8" result="b"/><feTurbulence type="fractalNoise" baseFrequency="0.045" numOctaves="2" seed="27" result="t1"/><feColorMatrix in="t1" type="matrix" values="1 0 0 0 0 1 0 0 0 0 1 0 0 0 0 0 0 0 0 1" result="n1"/><feTurbulence type="fractalNoise" baseFrequency="0.2" numOctaves="2" seed="77" result="t2"/><feColorMatrix in="t2" type="matrix" values="1 0 0 0 0 1 0 0 0 0 1 0 0 0 0 0 0 0 0 1" result="n2"/><feComposite in="n1" in2="n2" operator="arithmetic" k1="0" k2="0.450" k3="0.550" k4="0" result="n"/><feComposite in="b" in2="n" operator="arithmetic" k1="1.850" k2="0.075" k3="-0.190" k4="0.095" result="c"/><feComponentTransfer in="c" result="d"><feFuncR type="discrete" tableValues="0.000 0.000 0.000 0.478 0.824 1.000 1.000 1.000 1.000 1.000 1.000 1.000"/><feFuncG type="discrete" tableValues="0.651 0.651 0.753 0.863 0.957 0.875 0.592 0.298 0.000 0.000 0.000 0.000"/><feFuncB type="discrete" tableValues="0.000 0.000 0.000 0.000 0.000 0.000 0.000 0.031 0.000 0.000 0.000 0.000"/></feComponentTransfer><feFlood x="1" y="1" width="1" height="1" flood-color="#000" result="dot"/><feOffset in="dot" dx="0" dy="0" x="0" y="0" width="3" height="3" result="cell"/><feTile in="cell" result="grid"/><feComposite in="d" in2="grid" operator="in" result="s"/><feMorphology in="s" operator="dilate" radius="1"/></filter>
<filter id="jag" x="0" y="0" width="873" height="423" filterUnits="userSpaceOnUse" primitiveUnits="userSpaceOnUse"><feTurbulence type="fractalNoise" baseFrequency="0.22" numOctaves="1" seed="5" result="t"/><feDisplacementMap in="SourceGraphic" in2="t" scale="3.6" xChannelSelector="R" yChannelSelector="G"/></filter>
</defs>
<g transform="translate(173,89)">
<g clip-path="url(#bc0)"><g filter="url(#f0)"><g transform="translate(0.00,0.00)">
<path fill="#151515" d="M-42,27h288v27h-288zM-42,53h288v27h-288zM-42,79h288v27h-288zM-42,106h288v27h-288zM-42,132h288v27h-288zM-42,158h236v27h-236zM-42,184h210v27h-210zM-42,210h184v27h-184zM-42,236h184v27h-184zM-42,263h158v27h-158zM-42,289h132v27h-132zM-42,315h132v27h-132zM-42,341h106v27h-106zM-42,367h79v27h-79z"/><path fill="#313131" d="M246,27h53v27h-53zM246,53h79v27h-79zM246,79h79v27h-79zM246,106h79v27h-79zM246,132h79v27h-79zM193,158h106v27h-106zM167,184h53v27h-53zM246,184h53v27h-53zM141,210h27v27h-27zM272,210h27v27h-27z"/><path fill="#464646" d="M298,27h79v27h-79zM324,53h53v27h-53zM324,79h53v27h-53zM324,106h53v27h-53zM324,132h27v27h-27zM298,158h27v27h-27zM219,184h27v27h-27zM298,184h27v27h-27zM246,210h27v27h-27zM272,236h27v27h-27z"/><path fill="#5b5b5b" d="M376,27h27v27h-27zM664,27h27v27h-27zM768,27h158v27h-158zM376,53h27v27h-27zM664,53h27v27h-27zM768,53h158v27h-158zM376,79h27v27h-27zM664,79h27v27h-27zM768,79h158v27h-158zM664,106h27v27h-27zM768,106h158v27h-158zM350,132h27v27h-27zM664,132h27v27h-27zM768,132h158v27h-158zM324,158h53v27h-53zM585,158h53v27h-53zM768,158h158v27h-158zM324,184h53v27h-53zM585,184h53v27h-53zM768,184h158v27h-158zM167,210h79v27h-79zM298,210h27v27h-27zM585,210h27v27h-27zM664,210h27v27h-27zM768,210h158v27h-158zM141,236h132v27h-132zM820,236h106v27h-106zM115,263h158v27h-158zM820,263h106v27h-106zM89,289h184v27h-184zM847,289h79v27h-79zM89,315h132v27h-132zM873,315h53v27h-53zM63,341h106v27h-106zM873,341h53v27h-53zM37,367h79v27h-79zM899,367h27v27h-27z"/><path fill="#717171" d="M402,27h53v27h-53zM559,27h106v27h-106zM690,27h79v27h-79zM402,53h53v27h-53zM559,53h106v27h-106zM690,53h79v27h-79zM402,79h53v27h-53zM559,79h106v27h-106zM690,79h79v27h-79zM376,106h27v27h-27zM559,106h106v27h-106zM690,106h79v27h-79zM585,132h79v27h-79zM690,132h79v27h-79zM637,158h132v27h-132zM376,184h53v27h-53zM559,184h27v27h-27zM637,184h132v27h-132zM324,210h53v27h-53zM611,210h27v27h-27zM690,210h27v27h-27zM298,236h79v27h-79zM481,236h27v27h-27zM585,236h53v27h-53zM664,236h27v27h-27zM272,263h27v27h-27zM324,263h79v27h-79zM455,263h27v27h-27zM585,263h79v27h-79zM690,263h79v27h-79zM272,289h27v27h-27zM324,289h184v27h-184zM559,289h79v27h-79zM664,289h132v27h-132zM350,315h210v27h-210zM585,315h53v27h-53zM716,315h106v27h-106zM376,341h184v27h-184zM611,341h27v27h-27zM742,341h106v27h-106zM376,367h158v27h-158zM794,367h79v27h-79z"/><path fill="#868686" d="M455,27h79v27h-79zM455,53h53v27h-53zM455,79h53v27h-53zM402,106h27v27h-27zM376,132h27v27h-27zM559,132h27v27h-27zM376,158h106v27h-106zM559,158h27v27h-27zM428,184h27v27h-27zM455,210h79v27h-79zM559,210h27v27h-27zM637,210h27v27h-27zM716,210h53v27h-53zM455,236h27v27h-27zM507,236h27v27h-27zM559,236h27v27h-27zM637,236h27v27h-27zM690,236h132v27h-132zM298,263h27v27h-27zM402,263h53v27h-53zM481,263h106v27h-106zM664,263h27v27h-27zM768,263h53v27h-53zM298,289h27v27h-27zM507,289h53v27h-53zM637,289h27v27h-27zM794,289h53v27h-53zM219,315h132v27h-132zM559,315h27v27h-27zM637,315h79v27h-79zM820,315h53v27h-53zM167,341h210v27h-210zM559,341h53v27h-53zM637,341h106v27h-106zM847,341h27v27h-27zM115,367h262v27h-262zM533,367h262v27h-262zM873,367h27v27h-27z"/><path fill="#9b9b9b" d="M533,27h27v27h-27zM533,53h27v27h-27zM533,79h27v27h-27zM428,106h27v27h-27zM533,106h27v27h-27zM402,132h79v27h-79zM455,184h106v27h-106zM376,210h79v27h-79zM533,210h27v27h-27zM376,236h79v27h-79zM533,236h27v27h-27z"/><path fill="#b7b7b7" d="M507,53h27v27h-27zM507,79h27v27h-27zM455,106h79v27h-79zM533,132h27v27h-27zM481,158h79v27h-79z"/><path fill="#cccccc" d="M481,132h53v27h-53z"/>
</g></g>
<use href="#hl"/>
</g>
<g filter="url(#jag)"><use href="#ol" x="0.30" y="0.30"/></g>
</g>
<g transform="translate(1043,89)">
<g clip-path="url(#bc1)"><g filter="url(#f1)"><g transform="translate(0.20,0.00)">
<path fill="#464646" d="M-42,27h132v27h-132zM768,27h158v27h-158zM-42,53h132v27h-132zM768,53h158v27h-158zM-42,79h132v27h-132zM768,79h158v27h-158zM-42,106h106v27h-106zM768,106h158v27h-158zM-42,132h106v27h-106zM768,132h158v27h-158zM-42,158h79v27h-79zM768,158h158v27h-158zM-42,184h53v27h-53zM794,184h132v27h-132zM-42,210h53v27h-53zM716,210h53v27h-53zM794,210h132v27h-132zM-42,236h27v27h-27zM716,236h210v27h-210zM-42,263h27v27h-27zM768,263h158v27h-158zM585,289h53v27h-53zM794,289h132v27h-132zM585,315h27v27h-27zM820,315h106v27h-106zM847,341h79v27h-79zM873,367h53v27h-53z"/><path fill="#5b5b5b" d="M89,27h53v27h-53zM690,27h79v27h-79zM89,53h53v27h-53zM690,53h79v27h-79zM89,79h27v27h-27zM690,79h79v27h-79zM63,106h53v27h-53zM690,106h79v27h-79zM63,132h79v27h-79zM690,132h79v27h-79zM37,158h106v27h-106zM690,158h79v27h-79zM10,184h132v27h-132zM690,184h106v27h-106zM10,210h132v27h-132zM585,210h27v27h-27zM637,210h79v27h-79zM768,210h27v27h-27zM-16,236h158v27h-158zM481,236h27v27h-27zM559,236h158v27h-158zM-16,263h132v27h-132zM533,263h236v27h-236zM-42,289h132v27h-132zM507,289h79v27h-79zM637,289h158v27h-158zM-42,315h132v27h-132zM481,315h106v27h-106zM611,315h27v27h-27zM716,315h106v27h-106zM-42,341h106v27h-106zM481,341h158v27h-158zM742,341h106v27h-106zM-42,367h79v27h-79zM481,367h132v27h-132zM794,367h79v27h-79z"/><path fill="#717171" d="M141,27h106v27h-106zM585,27h106v27h-106zM141,53h106v27h-106zM585,53h106v27h-106zM115,79h53v27h-53zM585,79h106v27h-106zM115,106h53v27h-53zM585,106h106v27h-106zM141,132h27v27h-27zM611,132h79v27h-79zM141,158h27v27h-27zM611,158h79v27h-79zM141,184h27v27h-27zM559,184h132v27h-132zM272,210h27v27h-27zM455,210h132v27h-132zM611,210h27v27h-27zM272,236h53v27h-53zM455,236h27v27h-27zM507,236h53v27h-53zM193,263h106v27h-106zM481,263h53v27h-53zM141,289h132v27h-132zM481,289h27v27h-27zM89,315h132v27h-132zM428,315h53v27h-53zM637,315h79v27h-79zM63,341h106v27h-106zM428,341h53v27h-53zM637,341h106v27h-106zM37,367h79v27h-79zM428,367h53v27h-53zM611,367h184v27h-184z"/><path fill="#868686" d="M246,27h27v27h-27zM559,27h27v27h-27zM246,53h27v27h-27zM559,53h27v27h-27zM167,79h53v27h-53zM246,79h27v27h-27zM559,79h27v27h-27zM167,106h53v27h-53zM246,106h27v27h-27zM559,106h27v27h-27zM167,132h53v27h-53zM272,132h27v27h-27zM350,132h106v27h-106zM559,132h53v27h-53zM167,158h53v27h-53zM324,158h158v27h-158zM585,158h27v27h-27zM167,184h53v27h-53zM272,184h288v27h-288zM141,210h27v27h-27zM246,210h27v27h-27zM298,210h158v27h-158zM246,236h27v27h-27zM324,236h27v27h-27zM402,236h53v27h-53zM298,263h53v27h-53zM455,263h27v27h-27zM272,289h53v27h-53zM455,289h27v27h-27zM219,315h210v27h-210zM167,341h262v27h-262zM115,367h315v27h-315z"/><path fill="#9b9b9b" d="M272,27h132v27h-132zM428,27h27v27h-27zM533,27h27v27h-27zM272,53h132v27h-132zM428,53h27v27h-27zM533,53h27v27h-27zM219,79h27v27h-27zM272,79h132v27h-132zM428,79h27v27h-27zM533,79h27v27h-27zM219,106h27v27h-27zM272,106h184v27h-184zM533,106h27v27h-27zM219,132h53v27h-53zM298,132h53v27h-53zM455,132h27v27h-27zM219,158h106v27h-106zM481,158h106v27h-106zM219,184h53v27h-53zM167,210h79v27h-79zM141,236h106v27h-106zM350,236h53v27h-53zM115,263h79v27h-79zM350,263h106v27h-106zM89,289h53v27h-53zM324,289h132v27h-132z"/><path fill="#b7b7b7" d="M402,27h27v27h-27zM455,27h79v27h-79zM402,53h27v27h-27zM455,53h79v27h-79zM402,79h27v27h-27zM455,79h79v27h-79zM455,106h79v27h-79zM481,132h79v27h-79z"/>
</g></g>
<use href="#hl"/>
</g>
<g filter="url(#jag)"><use href="#ol" x="0.50" y="0.30"/></g>
</g>
<g transform="translate(173,511)">
<g clip-path="url(#bc2)"><g filter="url(#f2)"><g transform="translate(0.00,0.05)">
<path fill="#151515" d="M-42,27h210v27h-210zM-42,53h210v27h-210zM-42,79h184v27h-184zM-42,106h210v27h-210zM-42,132h210v27h-210zM-42,158h210v27h-210zM-42,184h210v27h-210zM-42,210h184v27h-184zM-42,236h184v27h-184zM-42,263h158v27h-158zM-42,289h132v27h-132zM-42,315h132v27h-132zM-42,341h106v27h-106zM-42,367h79v27h-79z"/><path fill="#313131" d="M167,27h79v27h-79zM167,53h79v27h-79zM141,79h106v27h-106zM167,106h79v27h-79zM167,132h53v27h-53zM167,158h27v27h-27z"/><path fill="#464646" d="M246,27h132v27h-132zM585,27h79v27h-79zM246,53h132v27h-132zM585,53h79v27h-79zM246,79h132v27h-132zM585,79h53v27h-53zM246,106h132v27h-132zM585,106h53v27h-53zM219,132h132v27h-132zM611,132h27v27h-27zM193,158h53v27h-53zM272,158h53v27h-53zM585,158h53v27h-53zM167,184h53v27h-53zM272,184h53v27h-53zM611,184h27v27h-27zM141,210h27v27h-27zM272,210h53v27h-53zM298,236h27v27h-27z"/><path fill="#5b5b5b" d="M376,27h27v27h-27zM559,27h27v27h-27zM768,27h158v27h-158zM376,53h27v27h-27zM559,53h27v27h-27zM768,53h158v27h-158zM376,79h27v27h-27zM559,79h27v27h-27zM637,79h27v27h-27zM768,79h158v27h-158zM376,106h27v27h-27zM559,106h27v27h-27zM637,106h27v27h-27zM768,106h158v27h-158zM350,132h27v27h-27zM585,132h27v27h-27zM637,132h27v27h-27zM768,132h158v27h-158zM246,158h27v27h-27zM324,158h53v27h-53zM768,158h158v27h-158zM219,184h53v27h-53zM324,184h79v27h-79zM585,184h27v27h-27zM637,184h27v27h-27zM768,184h158v27h-158zM167,210h106v27h-106zM324,210h79v27h-79zM585,210h27v27h-27zM768,210h158v27h-158zM141,236h158v27h-158zM324,236h27v27h-27zM820,236h106v27h-106zM115,263h79v27h-79zM820,263h106v27h-106zM89,289h53v27h-53zM847,289h79v27h-79zM873,315h53v27h-53zM873,341h53v27h-53zM899,367h27v27h-27z"/><path fill="#717171" d="M402,27h158v27h-158zM664,27h106v27h-106zM402,53h158v27h-158zM664,53h106v27h-106zM402,79h158v27h-158zM664,79h106v27h-106zM402,106h158v27h-158zM664,106h106v27h-106zM376,132h132v27h-132zM559,132h27v27h-27zM664,132h106v27h-106zM376,158h53v27h-53zM559,158h27v27h-27zM637,158h132v27h-132zM402,184h53v27h-53zM559,184h27v27h-27zM664,184h106v27h-106zM402,210h27v27h-27zM481,210h27v27h-27zM611,210h106v27h-106zM350,236h53v27h-53zM455,236h53v27h-53zM611,236h27v27h-27zM193,263h106v27h-106zM350,263h132v27h-132zM611,263h27v27h-27zM141,289h132v27h-132zM350,289h132v27h-132zM611,289h27v27h-27zM89,315h132v27h-132zM402,315h79v27h-79zM63,341h106v27h-106zM402,341h79v27h-79zM37,367h79v27h-79zM402,367h79v27h-79z"/><path fill="#868686" d="M507,132h53v27h-53zM428,158h132v27h-132zM455,184h106v27h-106zM428,210h53v27h-53zM507,210h27v27h-27zM559,210h27v27h-27zM716,210h53v27h-53zM402,236h53v27h-53zM507,236h27v27h-27zM559,236h53v27h-53zM637,236h184v27h-184zM324,263h27v27h-27zM481,263h27v27h-27zM559,263h53v27h-53zM637,263h184v27h-184zM324,289h27v27h-27zM481,289h27v27h-27zM559,289h53v27h-53zM637,289h210v27h-210zM350,315h53v27h-53zM481,315h79v27h-79zM611,315h262v27h-262zM324,341h79v27h-79zM481,341h393v27h-393zM298,367h106v27h-106zM481,367h419v27h-419z"/><path fill="#9b9b9b" d="M533,210h27v27h-27zM533,236h27v27h-27zM298,263h27v27h-27zM507,263h53v27h-53zM272,289h53v27h-53zM507,289h53v27h-53zM219,315h132v27h-132zM559,315h53v27h-53zM167,341h158v27h-158zM115,367h184v27h-184z"/>
</g></g>
<use href="#hl"/>
</g>
<g filter="url(#jag)"><use href="#ol" x="0.30" y="0.35"/></g>
</g>
<g transform="translate(1043,511)">
<g clip-path="url(#bc3)"><g filter="url(#f3)"><g transform="translate(0.20,0.05)">
<path fill="#151515" d="M-42,27h733v27h-733zM-42,53h733v27h-733zM-42,79h733v27h-733zM-42,106h445v27h-445zM455,106h236v27h-236zM-42,132h393v27h-393zM481,132h210v27h-210zM-42,158h367v27h-367zM559,158h132v27h-132zM-42,184h262v27h-262zM272,184h53v27h-53zM-42,210h210v27h-210zM-42,236h184v27h-184zM-42,263h158v27h-158zM-42,289h132v27h-132zM-42,315h132v27h-132zM-42,341h106v27h-106zM-42,367h79v27h-79z"/><path fill="#313131" d="M690,27h236v27h-236zM690,53h236v27h-236zM690,79h236v27h-236zM402,106h53v27h-53zM690,106h236v27h-236zM350,132h53v27h-53zM455,132h27v27h-27zM690,132h236v27h-236zM324,158h79v27h-79zM455,158h106v27h-106zM690,158h236v27h-236zM219,184h53v27h-53zM324,184h236v27h-236zM585,184h341v27h-341zM167,210h367v27h-367zM585,210h79v27h-79zM768,210h158v27h-158zM141,236h132v27h-132zM350,236h184v27h-184zM820,236h106v27h-106zM115,263h158v27h-158zM376,263h132v27h-132zM820,263h106v27h-106zM89,289h184v27h-184zM376,289h132v27h-132zM847,289h79v27h-79zM89,315h132v27h-132zM402,315h106v27h-106zM873,315h53v27h-53zM63,341h106v27h-106zM402,341h106v27h-106zM873,341h53v27h-53zM37,367h79v27h-79zM402,367h106v27h-106zM899,367h27v27h-27z"/><path fill="#464646" d="M402,132h53v27h-53zM402,158h53v27h-53zM559,184h27v27h-27zM533,210h53v27h-53zM664,210h106v27h-106zM272,236h27v27h-27zM324,236h27v27h-27zM533,236h288v27h-288zM350,263h27v27h-27zM507,263h315v27h-315zM350,289h27v27h-27zM507,289h79v27h-79zM611,289h27v27h-27zM690,289h158v27h-158zM350,315h53v27h-53zM507,315h53v27h-53zM716,315h158v27h-158zM376,341h27v27h-27zM507,341h53v27h-53zM742,341h132v27h-132zM376,367h27v27h-27zM507,367h27v27h-27zM794,367h106v27h-106z"/><path fill="#5b5b5b" d="M298,236h27v27h-27zM272,263h27v27h-27zM324,263h27v27h-27zM324,289h27v27h-27zM585,289h27v27h-27zM637,289h53v27h-53zM324,315h27v27h-27zM559,315h106v27h-106zM324,341h53v27h-53zM559,341h79v27h-79zM298,367h79v27h-79zM533,367h79v27h-79z"/><path fill="#717171" d="M298,263h27v27h-27zM272,289h53v27h-53zM219,315h106v27h-106zM664,315h53v27h-53zM167,341h158v27h-158zM637,341h106v27h-106zM115,367h184v27h-184zM611,367h184v27h-184z"/>
</g></g>
<use href="#hl"/>
</g>
<g filter="url(#jag)"><use href="#ol" x="0.50" y="0.35"/></g>
</g>
<g transform="translate(173,1003)">
<g clip-path="url(#bc4)"><g filter="url(#f4)"><g transform="translate(0.00,0.15)">
<path fill="#151515" d="M-42,27h288v27h-288zM-42,53h288v27h-288zM-42,79h288v27h-288zM-42,106h288v27h-288zM-42,132h288v27h-288zM-42,158h236v27h-236zM-42,184h210v27h-210zM-42,210h184v27h-184zM-42,236h184v27h-184zM-42,263h158v27h-158zM-42,289h132v27h-132zM-42,315h132v27h-132zM-42,341h106v27h-106zM-42,367h79v27h-79z"/><path fill="#313131" d="M246,27h53v27h-53zM246,53h79v27h-79zM246,79h79v27h-79zM246,106h79v27h-79zM246,132h79v27h-79zM193,158h106v27h-106zM167,184h53v27h-53zM246,184h53v27h-53zM141,210h27v27h-27zM272,210h27v27h-27z"/><path fill="#464646" d="M298,27h79v27h-79zM324,53h53v27h-53zM324,79h53v27h-53zM324,106h53v27h-53zM324,132h27v27h-27zM298,158h27v27h-27zM219,184h27v27h-27zM298,184h27v27h-27zM246,210h27v27h-27zM272,236h27v27h-27z"/><path fill="#5b5b5b" d="M376,27h27v27h-27zM794,27h132v27h-132zM376,53h27v27h-27zM794,53h132v27h-132zM376,79h27v27h-27zM794,79h132v27h-132zM794,106h132v27h-132zM350,132h27v27h-27zM794,132h132v27h-132zM324,158h53v27h-53zM794,158h132v27h-132zM324,184h53v27h-53zM611,184h27v27h-27zM768,184h158v27h-158zM167,210h79v27h-79zM298,210h27v27h-27zM585,210h27v27h-27zM768,210h158v27h-158zM141,236h132v27h-132zM820,236h106v27h-106zM115,263h158v27h-158zM820,263h106v27h-106zM89,289h184v27h-184zM847,289h79v27h-79zM89,315h132v27h-132zM873,315h53v27h-53zM63,341h106v27h-106zM873,341h53v27h-53zM37,367h79v27h-79zM899,367h27v27h-27z"/><path fill="#717171" d="M402,27h27v27h-27zM664,27h132v27h-132zM402,53h27v27h-27zM664,53h132v27h-132zM402,79h27v27h-27zM664,79h132v27h-132zM376,106h27v27h-27zM664,106h132v27h-132zM664,132h132v27h-132zM585,158h53v27h-53zM742,158h53v27h-53zM376,184h27v27h-27zM585,184h27v27h-27zM637,184h27v27h-27zM742,184h27v27h-27zM324,210h27v27h-27zM611,210h27v27h-27zM664,210h27v27h-27zM298,236h53v27h-53zM272,263h27v27h-27z"/><path fill="#868686" d="M428,27h106v27h-106zM585,27h79v27h-79zM428,53h79v27h-79zM585,53h79v27h-79zM428,79h79v27h-79zM585,79h79v27h-79zM585,106h79v27h-79zM585,132h79v27h-79zM637,158h106v27h-106zM402,184h27v27h-27zM559,184h27v27h-27zM664,184h79v27h-79zM350,210h27v27h-27zM690,210h27v27h-27zM350,236h27v27h-27zM481,236h27v27h-27zM585,236h53v27h-53zM664,236h27v27h-27zM298,263h106v27h-106zM455,263h27v27h-27zM585,263h79v27h-79zM690,263h79v27h-79zM272,289h27v27h-27zM324,289h184v27h-184zM559,289h79v27h-79zM664,289h132v27h-132zM350,315h210v27h-210zM585,315h53v27h-53zM716,315h106v27h-106zM324,341h236v27h-236zM611,341h27v27h-27zM742,341h106v27h-106zM298,367h236v27h-236zM794,367h79v27h-79z"/><path fill="#b7b7b7" d="M533,27h27v27h-27zM533,53h27v27h-27zM533,79h27v27h-27zM428,106h27v27h-27zM533,106h27v27h-27zM402,132h27v27h-27zM559,132h27v27h-27zM402,158h27v27h-27zM428,184h27v27h-27zM507,184h27v27h-27zM455,210h53v27h-53zM533,210h27v27h-27zM428,236h27v27h-27zM533,236h27v27h-27z"/><path fill="#9b9b9b" d="M559,27h27v27h-27zM559,53h27v27h-27zM559,79h27v27h-27zM402,106h27v27h-27zM559,106h27v27h-27zM376,132h27v27h-27zM376,158h27v27h-27zM559,158h27v27h-27zM533,184h27v27h-27zM376,210h27v27h-27zM507,210h27v27h-27zM559,210h27v27h-27zM637,210h27v27h-27zM716,210h53v27h-53zM455,236h27v27h-27zM507,236h27v27h-27zM559,236h27v27h-27zM637,236h27v27h-27zM690,236h132v27h-132zM402,263h53v27h-53zM481,263h106v27h-106zM664,263h27v27h-27zM768,263h53v27h-53zM298,289h27v27h-27zM507,289h53v27h-53zM637,289h27v27h-27zM794,289h53v27h-53zM219,315h132v27h-132zM559,315h27v27h-27zM637,315h79v27h-79zM820,315h53v27h-53zM167,341h158v27h-158zM559,341h53v27h-53zM637,341h106v27h-106zM847,341h27v27h-27zM115,367h184v27h-184zM533,367h262v27h-262zM873,367h27v27h-27z"/><path fill="#cccccc" d="M507,53h27v27h-27zM507,79h27v27h-27zM455,106h79v27h-79zM428,132h132v27h-132zM428,158h132v27h-132zM455,184h53v27h-53zM402,210h53v27h-53zM376,236h53v27h-53z"/>
</g></g>
<use href="#hl"/>
</g>
<g filter="url(#jag)"><use href="#ol" x="0.30" y="0.45"/></g>
</g>
<g transform="translate(1043,1003)">
<g clip-path="url(#bc5)"><g filter="url(#f5)"><g transform="translate(0.20,0.15)">
<path fill="#5b5b5b" d="M-42,27h158v27h-158zM742,27h27v27h-27zM-42,53h158v27h-158zM742,53h27v27h-27zM-42,79h158v27h-158zM742,79h27v27h-27zM-42,106h132v27h-132zM742,106h27v27h-27zM-42,132h184v27h-184zM742,132h27v27h-27zM-42,158h184v27h-184zM716,158h53v27h-53zM-42,184h184v27h-184zM690,184h79v27h-79zM-42,210h184v27h-184zM585,210h27v27h-27zM664,210h27v27h-27zM-42,236h184v27h-184zM298,236h27v27h-27zM481,236h27v27h-27zM585,236h106v27h-106zM-42,263h158v27h-158zM272,263h27v27h-27zM481,263h27v27h-27zM585,263h27v27h-27zM637,263h79v27h-79zM-42,289h132v27h-132zM481,289h106v27h-106zM637,289h106v27h-106zM-42,315h132v27h-132zM455,315h132v27h-132zM716,315h53v27h-53zM-42,341h106v27h-106zM455,341h158v27h-158zM742,341h53v27h-53zM-42,367h79v27h-79zM455,367h158v27h-158zM794,367h27v27h-27z"/><path fill="#717171" d="M115,27h53v27h-53zM690,27h53v27h-53zM115,53h53v27h-53zM690,53h53v27h-53zM115,79h27v27h-27zM690,79h53v27h-53zM89,106h53v27h-53zM690,106h53v27h-53zM141,132h27v27h-27zM690,132h53v27h-53zM141,158h27v27h-27zM664,158h53v27h-53zM141,184h27v27h-27zM350,184h27v27h-27zM585,184h106v27h-106zM272,210h27v27h-27zM324,210h53v27h-53zM455,210h79v27h-79zM559,210h27v27h-27zM611,210h53v27h-53zM272,236h27v27h-27zM324,236h27v27h-27zM455,236h27v27h-27zM507,236h27v27h-27zM559,236h27v27h-27zM298,263h27v27h-27zM507,263h79v27h-79zM428,315h27v27h-27zM637,315h79v27h-79zM428,341h27v27h-27zM637,341h106v27h-106zM428,367h27v27h-27zM611,367h184v27h-184z"/><path fill="#868686" d="M167,27h79v27h-79zM664,27h27v27h-27zM167,53h79v27h-79zM664,53h27v27h-27zM141,79h79v27h-79zM637,79h53v27h-53zM141,106h53v27h-53zM637,106h53v27h-53zM167,132h27v27h-27zM376,132h27v27h-27zM611,132h79v27h-79zM167,158h27v27h-27zM376,158h27v27h-27zM585,158h79v27h-79zM298,184h53v27h-53zM376,184h27v27h-27zM533,184h53v27h-53zM246,210h27v27h-27zM298,210h27v27h-27zM376,210h27v27h-27zM533,210h27v27h-27zM402,236h53v27h-53zM533,236h27v27h-27zM193,263h79v27h-79zM455,263h27v27h-27zM141,289h158v27h-158zM455,289h27v27h-27zM89,315h132v27h-132zM402,315h27v27h-27zM63,341h106v27h-106zM402,341h27v27h-27zM37,367h79v27h-79zM402,367h27v27h-27z"/><path fill="#9b9b9b" d="M246,27h27v27h-27zM559,27h106v27h-106zM246,53h27v27h-27zM559,53h106v27h-106zM219,79h53v27h-53zM559,79h79v27h-79zM193,106h79v27h-79zM559,106h79v27h-79zM193,132h53v27h-53zM272,132h27v27h-27zM350,132h27v27h-27zM402,132h79v27h-79zM585,132h27v27h-27zM193,158h27v27h-27zM324,158h53v27h-53zM402,158h184v27h-184zM167,184h53v27h-53zM246,184h53v27h-53zM402,184h132v27h-132zM141,210h106v27h-106zM402,210h53v27h-53zM141,236h132v27h-132zM350,236h53v27h-53zM115,263h79v27h-79zM324,263h53v27h-53zM89,289h53v27h-53zM298,289h27v27h-27zM428,289h27v27h-27zM219,315h184v27h-184zM167,341h236v27h-236zM115,367h288v27h-288z"/><path fill="#b7b7b7" d="M272,27h106v27h-106zM533,27h27v27h-27zM272,53h106v27h-106zM533,53h27v27h-27zM272,79h106v27h-106zM533,79h27v27h-27zM272,106h106v27h-106zM533,106h27v27h-27zM246,132h27v27h-27zM298,132h53v27h-53zM559,132h27v27h-27zM219,158h106v27h-106zM219,184h27v27h-27zM376,263h79v27h-79zM324,289h106v27h-106z"/><path fill="#cccccc" d="M376,27h158v27h-158zM376,53h158v27h-158zM376,79h158v27h-158zM376,106h158v27h-158zM481,132h79v27h-79z"/><path fill="#464646" d="M768,27h158v27h-158zM768,53h158v27h-158zM768,79h158v27h-158zM768,106h158v27h-158zM768,132h158v27h-158zM768,158h158v27h-158zM768,184h158v27h-158zM690,210h236v27h-236zM690,236h236v27h-236zM611,263h27v27h-27zM716,263h210v27h-210zM585,289h53v27h-53zM742,289h184v27h-184zM585,315h53v27h-53zM768,315h158v27h-158zM611,341h27v27h-27zM794,341h132v27h-132zM820,367h106v27h-106z"/>
</g></g>
<use href="#hl"/>
</g>
<g filter="url(#jag)"><use href="#ol" x="0.50" y="0.45"/></g>
</g>
<g transform="translate(173,1425)">
<g clip-path="url(#bc6)"><g filter="url(#f6)"><g transform="translate(0.00,0.20)">
<path fill="#151515" d="M-42,27h79v27h-79zM-42,53h79v27h-79zM-42,79h79v27h-79zM-42,106h79v27h-79zM-42,132h79v27h-79zM-42,158h79v27h-79zM-42,184h53v27h-53zM-42,210h53v27h-53zM-42,236h27v27h-27zM-42,263h27v27h-27z"/><path fill="#313131" d="M37,27h132v27h-132zM585,27h79v27h-79zM37,53h132v27h-132zM585,53h79v27h-79zM37,79h106v27h-106zM585,79h53v27h-53zM37,106h132v27h-132zM585,106h53v27h-53zM37,132h132v27h-132zM37,158h132v27h-132zM10,184h158v27h-158zM10,210h132v27h-132zM-16,236h158v27h-158zM-16,263h132v27h-132zM-42,289h132v27h-132zM-42,315h132v27h-132zM-42,341h106v27h-106zM-42,367h79v27h-79z"/><path fill="#464646" d="M167,27h106v27h-106zM298,27h79v27h-79zM167,53h106v27h-106zM324,53h53v27h-53zM141,79h132v27h-132zM324,79h53v27h-53zM167,106h106v27h-106zM324,106h53v27h-53zM167,132h184v27h-184zM611,132h27v27h-27zM167,158h53v27h-53zM272,158h53v27h-53zM585,158h53v27h-53zM167,184h53v27h-53zM272,184h53v27h-53zM611,184h27v27h-27zM141,210h27v27h-27zM272,210h53v27h-53zM298,236h27v27h-27z"/><path fill="#5b5b5b" d="M272,27h27v27h-27zM376,27h27v27h-27zM559,27h27v27h-27zM794,27h132v27h-132zM272,53h53v27h-53zM376,53h27v27h-27zM559,53h27v27h-27zM794,53h132v27h-132zM272,79h53v27h-53zM376,79h27v27h-27zM559,79h27v27h-27zM637,79h27v27h-27zM794,79h132v27h-132zM272,106h53v27h-53zM559,106h27v27h-27zM637,106h27v27h-27zM794,106h132v27h-132zM350,132h27v27h-27zM585,132h27v27h-27zM637,132h27v27h-27zM794,132h132v27h-132zM219,158h53v27h-53zM324,158h53v27h-53zM794,158h132v27h-132zM219,184h53v27h-53zM324,184h53v27h-53zM585,184h27v27h-27zM768,184h158v27h-158zM246,210h27v27h-27zM324,210h53v27h-53zM585,210h27v27h-27zM768,210h158v27h-158zM272,236h27v27h-27zM820,236h106v27h-106zM820,263h106v27h-106zM847,289h79v27h-79zM873,315h53v27h-53zM873,341h53v27h-53zM899,367h27v27h-27z"/><path fill="#717171" d="M402,27h27v27h-27zM664,27h27v27h-27zM742,27h53v27h-53zM402,53h27v27h-27zM664,53h27v27h-27zM742,53h53v27h-53zM402,79h27v27h-27zM664,79h27v27h-27zM742,79h53v27h-53zM376,106h53v27h-53zM664,106h27v27h-27zM742,106h53v27h-53zM376,132h27v27h-27zM664,132h27v27h-27zM742,132h53v27h-53zM376,158h27v27h-27zM742,158h53v27h-53zM376,184h53v27h-53zM559,184h27v27h-27zM637,184h79v27h-79zM167,210h79v27h-79zM376,210h27v27h-27zM611,210h27v27h-27zM141,236h132v27h-132zM324,236h27v27h-27zM481,236h27v27h-27zM115,263h158v27h-158zM428,263h53v27h-53zM89,289h184v27h-184zM402,289h79v27h-79zM89,315h132v27h-132zM402,315h79v27h-79zM63,341h106v27h-106zM402,341h79v27h-79zM37,367h79v27h-79zM402,367h79v27h-79z"/><path fill="#868686" d="M428,27h132v27h-132zM690,27h53v27h-53zM428,53h79v27h-79zM533,53h27v27h-27zM690,53h53v27h-53zM428,79h79v27h-79zM533,79h27v27h-27zM690,79h53v27h-53zM428,106h53v27h-53zM533,106h27v27h-27zM690,106h53v27h-53zM402,132h53v27h-53zM481,132h27v27h-27zM690,132h53v27h-53zM402,158h27v27h-27zM559,158h27v27h-27zM637,158h106v27h-106zM428,184h27v27h-27zM533,184h27v27h-27zM716,184h53v27h-53zM402,210h27v27h-27zM481,210h27v27h-27zM637,210h79v27h-79zM350,236h53v27h-53zM455,236h27v27h-27zM611,236h106v27h-106zM272,263h27v27h-27zM350,263h79v27h-79zM481,263h27v27h-27zM611,263h53v27h-53zM690,263h79v27h-79zM376,289h27v27h-27zM481,289h27v27h-27zM611,289h27v27h-27zM664,289h132v27h-132zM376,315h27v27h-27zM481,315h27v27h-27zM716,315h106v27h-106zM376,341h27v27h-27zM481,341h27v27h-27zM742,341h106v27h-106zM376,367h27v27h-27zM481,367h27v27h-27zM794,367h79v27h-79z"/><path fill="#9b9b9b" d="M507,53h27v27h-27zM507,79h27v27h-27zM481,106h53v27h-53zM455,132h27v27h-27zM507,132h79v27h-79zM428,158h132v27h-132zM455,184h79v27h-79zM428,210h53v27h-53zM507,210h27v27h-27zM559,210h27v27h-27zM716,210h53v27h-53zM402,236h53v27h-53zM507,236h27v27h-27zM559,236h53v27h-53zM716,236h106v27h-106zM298,263h53v27h-53zM507,263h27v27h-27zM559,263h53v27h-53zM664,263h27v27h-27zM768,263h53v27h-53zM272,289h27v27h-27zM350,289h27v27h-27zM507,289h27v27h-27zM559,289h53v27h-53zM637,289h27v27h-27zM794,289h53v27h-53zM350,315h27v27h-27zM507,315h53v27h-53zM611,315h106v27h-106zM820,315h53v27h-53zM324,341h53v27h-53zM507,341h236v27h-236zM847,341h27v27h-27zM298,367h79v27h-79zM507,367h288v27h-288zM873,367h27v27h-27z"/><path fill="#b7b7b7" d="M533,210h27v27h-27zM533,236h27v27h-27zM533,263h27v27h-27zM298,289h53v27h-53zM533,289h27v27h-27zM219,315h132v27h-132zM559,315h53v27h-53zM167,341h158v27h-158zM115,367h184v27h-184z"/>
</g></g>
<use href="#hl"/>
</g>
<g filter="url(#jag)"><use href="#ol" x="0.30" y="0.50"/></g>
</g>
<g transform="translate(1043,1425)">
<g clip-path="url(#bc7)"><g filter="url(#f7)"><g transform="translate(0.20,0.20)">
<path fill="#151515" d="M-42,27h733v27h-733zM-42,53h733v27h-733zM-42,79h733v27h-733zM-42,106h445v27h-445zM481,106h210v27h-210zM-42,132h393v27h-393zM507,132h184v27h-184zM-42,158h367v27h-367zM559,158h132v27h-132zM-42,184h262v27h-262zM272,184h53v27h-53zM-42,210h210v27h-210zM-42,236h184v27h-184zM-42,263h158v27h-158zM-42,289h132v27h-132zM-42,315h132v27h-132zM-42,341h106v27h-106zM-42,367h79v27h-79z"/><path fill="#313131" d="M690,27h236v27h-236zM690,53h236v27h-236zM690,79h236v27h-236zM402,106h27v27h-27zM455,106h27v27h-27zM690,106h236v27h-236zM350,132h53v27h-53zM481,132h27v27h-27zM690,132h236v27h-236zM324,158h79v27h-79zM507,158h53v27h-53zM690,158h79v27h-79zM794,158h132v27h-132zM219,184h53v27h-53zM324,184h106v27h-106zM455,184h106v27h-106zM585,184h132v27h-132zM768,184h158v27h-158zM167,210h262v27h-262zM455,210h79v27h-79zM585,210h53v27h-53zM768,210h158v27h-158zM141,236h132v27h-132zM350,236h53v27h-53zM428,236h79v27h-79zM820,236h106v27h-106zM115,263h158v27h-158zM376,263h132v27h-132zM820,263h106v27h-106zM89,289h184v27h-184zM376,289h106v27h-106zM847,289h79v27h-79zM89,315h132v27h-132zM402,315h106v27h-106zM873,315h53v27h-53zM63,341h106v27h-106zM402,341h106v27h-106zM873,341h53v27h-53zM37,367h79v27h-79zM402,367h106v27h-106zM899,367h27v27h-27z"/><path fill="#464646" d="M428,106h27v27h-27zM402,132h79v27h-79zM402,158h106v27h-106zM768,158h27v27h-27zM428,184h27v27h-27zM559,184h27v27h-27zM716,184h53v27h-53zM428,210h27v27h-27zM533,210h53v27h-53zM637,210h132v27h-132zM324,236h27v27h-27zM402,236h27v27h-27zM507,236h184v27h-184zM716,236h106v27h-106zM350,263h27v27h-27zM507,263h53v27h-53zM585,263h79v27h-79zM716,263h106v27h-106zM350,289h27v27h-27zM481,289h79v27h-79zM742,289h106v27h-106zM350,315h53v27h-53zM507,315h27v27h-27zM768,315h106v27h-106zM376,341h27v27h-27zM507,341h27v27h-27zM794,341h79v27h-79zM376,367h27v27h-27zM507,367h27v27h-27zM820,367h79v27h-79z"/><path fill="#5b5b5b" d="M272,236h53v27h-53zM690,236h27v27h-27zM324,263h27v27h-27zM559,263h27v27h-27zM664,263h53v27h-53zM324,289h27v27h-27zM559,289h79v27h-79zM690,289h53v27h-53zM324,315h27v27h-27zM533,315h27v27h-27zM585,315h27v27h-27zM716,315h53v27h-53zM533,341h27v27h-27zM742,341h53v27h-53zM794,367h27v27h-27z"/><path fill="#717171" d="M272,263h53v27h-53zM272,289h53v27h-53zM637,289h53v27h-53zM219,315h106v27h-106zM559,315h27v27h-27zM611,315h53v27h-53zM167,341h210v27h-210zM559,341h79v27h-79zM115,367h262v27h-262zM533,367h79v27h-79z"/><path fill="#868686" d="M664,315h53v27h-53zM637,341h106v27h-106zM611,367h184v27h-184z"/>
</g></g>
<use href="#hl"/>
</g>
<g filter="url(#jag)"><use href="#ol" x="0.50" y="0.50"/></g>
</g>
<g transform="translate(173,1917)">
<g clip-path="url(#bc8)"><g filter="url(#f8)"><g transform="translate(0.00,0.40)">
<path fill="#151515" d="M-42,27h288v27h-288zM-42,53h288v27h-288zM-42,79h262v27h-262zM-42,106h262v27h-262zM-42,132h262v27h-262zM-42,158h236v27h-236zM-42,184h210v27h-210zM-42,210h184v27h-184zM-42,236h184v27h-184zM-42,263h158v27h-158zM-42,289h132v27h-132zM-42,315h132v27h-132zM-42,341h106v27h-106zM-42,367h79v27h-79z"/><path fill="#313131" d="M246,27h53v27h-53zM246,53h79v27h-79zM219,79h106v27h-106zM219,106h106v27h-106zM219,132h106v27h-106zM193,158h106v27h-106zM167,184h53v27h-53zM246,184h53v27h-53zM141,210h27v27h-27zM272,210h27v27h-27z"/><path fill="#464646" d="M298,27h79v27h-79zM324,53h53v27h-53zM324,79h53v27h-53zM324,106h53v27h-53zM324,132h27v27h-27zM298,158h27v27h-27zM219,184h27v27h-27zM298,184h27v27h-27zM246,210h27v27h-27zM272,236h27v27h-27z"/><path fill="#5b5b5b" d="M376,27h27v27h-27zM376,53h27v27h-27zM376,79h27v27h-27zM350,132h27v27h-27zM873,132h53v27h-53zM324,158h27v27h-27zM794,158h132v27h-132zM324,184h27v27h-27zM611,184h27v27h-27zM820,184h106v27h-106zM167,210h79v27h-79zM298,210h27v27h-27zM585,210h27v27h-27zM820,210h106v27h-106zM141,236h132v27h-132zM820,236h106v27h-106zM115,263h158v27h-158zM820,263h106v27h-106zM89,289h184v27h-184zM847,289h79v27h-79zM89,315h132v27h-132zM873,315h53v27h-53zM63,341h106v27h-106zM873,341h53v27h-53zM37,367h79v27h-79zM899,367h27v27h-27z"/><path fill="#9b9b9b" d="M402,27h53v27h-53zM585,27h79v27h-79zM402,53h53v27h-53zM585,53h79v27h-79zM402,79h53v27h-53zM585,79h53v27h-53zM585,106h53v27h-53zM585,132h53v27h-53zM690,158h53v27h-53zM559,184h27v27h-27zM690,184h53v27h-53zM350,210h27v27h-27zM637,210h79v27h-79zM350,236h27v27h-27zM664,236h27v27h-27zM298,263h106v27h-106zM585,263h27v27h-27zM637,263h27v27h-27zM690,263h79v27h-79zM298,289h210v27h-210zM559,289h79v27h-79zM664,289h132v27h-132zM219,315h341v27h-341zM585,315h53v27h-53zM716,315h106v27h-106zM167,341h393v27h-393zM611,341h27v27h-27zM742,341h106v27h-106zM115,367h419v27h-419zM794,367h79v27h-79z"/><path fill="#b7b7b7" d="M455,27h79v27h-79zM559,27h27v27h-27zM455,53h53v27h-53zM559,53h27v27h-27zM455,79h53v27h-53zM559,79h27v27h-27zM402,106h27v27h-27zM559,106h27v27h-27zM376,132h27v27h-27zM376,158h27v27h-27zM559,158h27v27h-27zM402,184h27v27h-27zM533,184h27v27h-27zM376,210h27v27h-27zM507,210h27v27h-27zM559,210h27v27h-27zM716,210h53v27h-53zM481,236h53v27h-53zM559,236h27v27h-27zM637,236h27v27h-27zM690,236h132v27h-132zM402,263h184v27h-184zM664,263h27v27h-27zM768,263h53v27h-53zM507,289h53v27h-53zM637,289h27v27h-27zM794,289h53v27h-53zM559,315h27v27h-27zM637,315h79v27h-79zM820,315h53v27h-53zM559,341h53v27h-53zM637,341h106v27h-106zM847,341h27v27h-27zM533,367h262v27h-262zM873,367h27v27h-27z"/><path fill="#cccccc" d="M533,27h27v27h-27zM507,53h53v27h-53zM507,79h53v27h-53zM428,106h132v27h-132zM402,132h184v27h-184zM402,158h158v27h-158zM428,184h106v27h-106zM402,210h106v27h-106zM533,210h27v27h-27zM376,236h106v27h-106zM533,236h27v27h-27z"/><path fill="#717171" d="M664,27h27v27h-27zM768,27h158v27h-158zM664,53h27v27h-27zM768,53h158v27h-158zM664,79h27v27h-27zM768,79h158v27h-158zM664,106h27v27h-27zM768,106h158v27h-158zM664,132h27v27h-27zM768,132h106v27h-106zM350,158h27v27h-27zM611,158h27v27h-27zM768,158h27v27h-27zM350,184h27v27h-27zM637,184h27v27h-27zM768,184h53v27h-53zM324,210h27v27h-27zM611,210h27v27h-27zM768,210h53v27h-53zM298,236h27v27h-27zM272,263h27v27h-27z"/><path fill="#868686" d="M690,27h79v27h-79zM690,53h79v27h-79zM637,79h27v27h-27zM690,79h79v27h-79zM376,106h27v27h-27zM637,106h27v27h-27zM690,106h79v27h-79zM637,132h27v27h-27zM690,132h79v27h-79zM585,158h27v27h-27zM637,158h53v27h-53zM742,158h27v27h-27zM376,184h27v27h-27zM585,184h27v27h-27zM664,184h27v27h-27zM742,184h27v27h-27zM324,236h27v27h-27zM585,236h53v27h-53zM611,263h27v27h-27zM272,289h27v27h-27z"/>
</g></g>
<use href="#hl"/>
</g>
<g filter="url(#jag)"><use href="#ol" x="0.30" y="0.70"/></g>
</g>
<g transform="translate(1043,1917)">
<g clip-path="url(#bc9)"><g filter="url(#f9)"><g transform="translate(0.20,0.40)">
<path fill="#5b5b5b" d="M-42,27h132v27h-132zM742,27h27v27h-27zM-42,53h132v27h-132zM742,53h27v27h-27zM-42,79h106v27h-106zM742,79h27v27h-27zM-42,106h106v27h-106zM742,106h27v27h-27zM-42,132h106v27h-106zM742,132h27v27h-27zM-42,158h79v27h-79zM742,158h27v27h-27zM-42,184h53v27h-53zM350,184h27v27h-27zM690,184h53v27h-53zM-42,210h53v27h-53zM272,210h27v27h-27zM324,210h53v27h-53zM585,210h27v27h-27zM-42,236h27v27h-27zM272,236h79v27h-79zM455,236h27v27h-27zM585,236h27v27h-27zM637,236h53v27h-53zM-42,263h27v27h-27zM272,263h53v27h-53zM507,263h27v27h-27zM585,263h27v27h-27zM637,263h53v27h-53zM481,289h106v27h-106zM637,289h106v27h-106zM481,315h158v27h-158zM716,315h53v27h-53zM481,341h158v27h-158zM742,341h53v27h-53zM481,367h132v27h-132zM794,367h27v27h-27z"/><path fill="#717171" d="M89,27h79v27h-79zM716,27h27v27h-27zM89,53h79v27h-79zM716,53h27v27h-27zM63,79h79v27h-79zM716,79h27v27h-27zM63,106h53v27h-53zM716,106h27v27h-27zM63,132h79v27h-79zM716,132h27v27h-27zM37,158h106v27h-106zM716,158h27v27h-27zM10,184h132v27h-132zM10,210h132v27h-132zM507,210h27v27h-27zM559,210h27v27h-27zM611,210h53v27h-53zM-16,236h158v27h-158zM507,236h27v27h-27zM559,236h27v27h-27zM-16,263h132v27h-132zM533,263h53v27h-53zM-42,289h132v27h-132zM-42,315h132v27h-132zM455,315h27v27h-27zM637,315h79v27h-79zM-42,341h106v27h-106zM455,341h27v27h-27zM637,341h106v27h-106zM-42,367h79v27h-79zM455,367h27v27h-27zM611,367h184v27h-184z"/><path fill="#868686" d="M167,27h79v27h-79zM664,27h53v27h-53zM167,53h79v27h-79zM664,53h53v27h-53zM141,79h79v27h-79zM637,79h79v27h-79zM115,106h53v27h-53zM637,106h79v27h-79zM141,132h53v27h-53zM637,132h79v27h-79zM141,158h53v27h-53zM664,158h53v27h-53zM141,184h27v27h-27zM298,184h53v27h-53zM585,184h106v27h-106zM246,210h27v27h-27zM298,210h27v27h-27zM455,210h53v27h-53zM533,210h27v27h-27zM402,236h53v27h-53zM533,236h27v27h-27zM193,263h79v27h-79zM455,263h27v27h-27zM141,289h158v27h-158zM455,289h27v27h-27zM89,315h132v27h-132zM428,315h27v27h-27zM63,341h106v27h-106zM428,341h27v27h-27zM37,367h79v27h-79zM428,367h27v27h-27z"/><path fill="#b7b7b7" d="M246,27h132v27h-132zM246,53h132v27h-132zM246,79h132v27h-132zM246,106h132v27h-132zM246,132h27v27h-27zM298,132h53v27h-53zM402,132h79v27h-79zM611,132h27v27h-27zM219,158h106v27h-106zM402,158h79v27h-79zM559,158h53v27h-53zM219,184h27v27h-27zM402,184h53v27h-53zM507,184h27v27h-27zM350,236h27v27h-27zM350,263h27v27h-27zM324,289h27v27h-27zM428,289h27v27h-27zM324,315h79v27h-79zM376,341h27v27h-27zM376,367h27v27h-27z"/><path fill="#cccccc" d="M376,27h288v27h-288zM376,53h288v27h-288zM376,79h262v27h-262zM376,106h262v27h-262zM481,132h132v27h-132zM481,158h79v27h-79zM455,184h53v27h-53zM376,263h79v27h-79zM350,289h79v27h-79z"/><path fill="#464646" d="M768,27h27v27h-27zM768,53h27v27h-27zM768,79h27v27h-27zM768,106h27v27h-27zM768,132h27v27h-27zM742,184h53v27h-53zM664,210h53v27h-53zM768,210h27v27h-27zM481,236h27v27h-27zM611,236h27v27h-27zM690,236h53v27h-53zM481,263h27v27h-27zM690,263h79v27h-79zM585,289h53v27h-53zM742,289h53v27h-53zM768,315h53v27h-53zM794,341h53v27h-53zM820,367h53v27h-53z"/><path fill="#313131" d="M794,27h132v27h-132zM794,53h132v27h-132zM794,79h132v27h-132zM794,106h132v27h-132zM794,132h132v27h-132zM768,158h158v27h-158zM794,184h132v27h-132zM716,210h53v27h-53zM794,210h132v27h-132zM742,236h184v27h-184zM611,263h27v27h-27zM768,263h158v27h-158zM794,289h132v27h-132zM820,315h106v27h-106zM847,341h79v27h-79zM873,367h53v27h-53z"/><path fill="#9b9b9b" d="M219,79h27v27h-27zM167,106h79v27h-79zM193,132h53v27h-53zM272,132h27v27h-27zM350,132h53v27h-53zM193,158h27v27h-27zM324,158h79v27h-79zM611,158h53v27h-53zM167,184h53v27h-53zM246,184h53v27h-53zM376,184h27v27h-27zM533,184h53v27h-53zM141,210h106v27h-106zM376,210h79v27h-79zM141,236h132v27h-132zM376,236h27v27h-27zM115,263h79v27h-79zM324,263h27v27h-27zM89,289h53v27h-53zM298,289h27v27h-27zM219,315h106v27h-106zM402,315h27v27h-27zM167,341h210v27h-210zM402,341h27v27h-27zM115,367h262v27h-262zM402,367h27v27h-27z"/>
</g></g>
<use href="#hl"/>
</g>
<g filter="url(#jag)"><use href="#ol" x="0.50" y="0.70"/></g>
</g>
<g transform="translate(173,2339)">
<g clip-path="url(#bc10)"><g filter="url(#f10)"><g transform="translate(0.00,0.45)">
<path fill="#313131" d="M-42,27h210v27h-210zM585,27h79v27h-79zM-42,53h210v27h-210zM585,53h79v27h-79zM-42,79h184v27h-184zM585,79h53v27h-53zM-42,106h210v27h-210zM585,106h53v27h-53zM-42,132h210v27h-210zM-42,158h210v27h-210zM-42,184h210v27h-210zM-42,210h184v27h-184zM-42,236h184v27h-184zM-42,263h158v27h-158zM-42,289h132v27h-132zM-42,315h132v27h-132zM-42,341h106v27h-106zM-42,367h79v27h-79z"/><path fill="#464646" d="M167,27h106v27h-106zM298,27h79v27h-79zM167,53h106v27h-106zM324,53h53v27h-53zM141,79h132v27h-132zM324,79h53v27h-53zM167,106h106v27h-106zM324,106h53v27h-53zM167,132h184v27h-184zM611,132h27v27h-27zM167,158h53v27h-53zM272,158h53v27h-53zM167,184h53v27h-53zM272,184h53v27h-53zM141,210h27v27h-27zM272,210h27v27h-27z"/><path fill="#5b5b5b" d="M272,27h27v27h-27zM376,27h27v27h-27zM559,27h27v27h-27zM794,27h132v27h-132zM272,53h53v27h-53zM376,53h27v27h-27zM559,53h27v27h-27zM794,53h132v27h-132zM272,79h53v27h-53zM376,79h27v27h-27zM559,79h27v27h-27zM794,79h132v27h-132zM272,106h53v27h-53zM376,106h27v27h-27zM559,106h27v27h-27zM794,106h132v27h-132zM794,132h132v27h-132zM219,158h53v27h-53zM324,158h27v27h-27zM585,158h53v27h-53zM794,158h132v27h-132zM246,184h27v27h-27zM324,184h27v27h-27zM611,184h27v27h-27zM820,184h106v27h-106zM298,210h53v27h-53zM585,210h27v27h-27zM820,210h106v27h-106zM298,236h27v27h-27zM820,236h106v27h-106zM820,263h106v27h-106zM847,289h79v27h-79zM873,315h53v27h-53zM873,341h53v27h-53zM899,367h27v27h-27z"/><path fill="#717171" d="M402,27h27v27h-27zM768,27h27v27h-27zM402,53h27v27h-27zM768,53h27v27h-27zM402,79h27v27h-27zM637,79h27v27h-27zM768,79h27v27h-27zM402,106h27v27h-27zM637,106h27v27h-27zM768,106h27v27h-27zM350,132h53v27h-53zM585,132h27v27h-27zM637,132h27v27h-27zM768,132h27v27h-27zM350,158h53v27h-53zM768,158h27v27h-27zM219,184h27v27h-27zM350,184h27v27h-27zM402,184h27v27h-27zM585,184h27v27h-27zM768,184h53v27h-53zM167,210h106v27h-106zM350,210h27v27h-27zM611,210h27v27h-27zM768,210h53v27h-53zM141,236h158v27h-158zM324,236h27v27h-27zM115,263h158v27h-158zM89,289h184v27h-184zM89,315h132v27h-132zM63,341h106v27h-106zM37,367h79v27h-79z"/><path fill="#868686" d="M428,27h132v27h-132zM664,27h27v27h-27zM742,27h27v27h-27zM428,53h79v27h-79zM533,53h27v27h-27zM664,53h27v27h-27zM742,53h27v27h-27zM428,79h79v27h-79zM533,79h27v27h-27zM664,79h27v27h-27zM742,79h27v27h-27zM428,106h79v27h-79zM533,106h27v27h-27zM664,106h27v27h-27zM742,106h27v27h-27zM402,132h53v27h-53zM481,132h27v27h-27zM559,132h27v27h-27zM664,132h27v27h-27zM742,132h27v27h-27zM402,158h27v27h-27zM559,158h27v27h-27zM742,158h27v27h-27zM376,184h27v27h-27zM428,184h27v27h-27zM559,184h27v27h-27zM637,184h79v27h-79zM376,210h27v27h-27zM481,236h27v27h-27zM637,236h53v27h-53zM716,236h106v27h-106zM272,263h27v27h-27zM428,263h53v27h-53zM637,263h27v27h-27zM690,263h132v27h-132zM402,289h79v27h-79zM664,289h184v27h-184zM402,315h79v27h-79zM716,315h158v27h-158zM402,341h79v27h-79zM742,341h132v27h-132zM402,367h79v27h-79zM794,367h106v27h-106z"/><path fill="#9b9b9b" d="M690,27h53v27h-53zM507,53h27v27h-27zM690,53h53v27h-53zM507,79h27v27h-27zM690,79h53v27h-53zM507,106h27v27h-27zM690,106h53v27h-53zM455,132h27v27h-27zM507,132h53v27h-53zM690,132h53v27h-53zM428,158h132v27h-132zM637,158h106v27h-106zM455,184h106v27h-106zM716,184h53v27h-53zM402,210h27v27h-27zM481,210h27v27h-27zM637,210h79v27h-79zM350,236h53v27h-53zM455,236h27v27h-27zM611,236h27v27h-27zM690,236h27v27h-27zM350,263h79v27h-79zM481,263h27v27h-27zM611,263h27v27h-27zM664,263h27v27h-27zM376,289h27v27h-27zM481,289h27v27h-27zM611,289h53v27h-53zM376,315h27v27h-27zM481,315h27v27h-27zM637,315h79v27h-79zM376,341h27v27h-27zM481,341h27v27h-27zM376,367h27v27h-27zM481,367h27v27h-27z"/><path fill="#b7b7b7" d="M428,210h53v27h-53zM507,210h27v27h-27zM559,210h27v27h-27zM716,210h53v27h-53zM402,236h53v27h-53zM507,236h27v27h-27zM559,236h53v27h-53zM298,263h53v27h-53zM507,263h27v27h-27zM585,263h27v27h-27zM272,289h106v27h-106zM507,289h27v27h-27zM585,289h27v27h-27zM219,315h158v27h-158zM507,315h53v27h-53zM611,315h27v27h-27zM167,341h210v27h-210zM507,341h236v27h-236zM115,367h262v27h-262zM507,367h288v27h-288z"/><path fill="#cccccc" d="M533,210h27v27h-27zM533,236h27v27h-27zM533,263h53v27h-53zM533,289h53v27h-53zM559,315h53v27h-53z"/>
</g></g>
<use href="#hl"/>
</g>
<g filter="url(#jag)"><use href="#ol" x="0.30" y="0.75"/></g>
</g>
<g transform="translate(1043,2339)">
<g clip-path="url(#bc11)"><g filter="url(#f11)"><g transform="translate(0.20,0.45)">
<path fill="#151515" d="M-42,27h733v27h-733zM-42,53h733v27h-733zM-42,79h733v27h-733zM-42,106h445v27h-445zM481,106h210v27h-210zM-42,132h393v27h-393zM507,132h184v27h-184zM-42,158h367v27h-367zM585,158h106v27h-106zM-42,184h262v27h-262zM272,184h53v27h-53zM-42,210h210v27h-210zM-42,236h184v27h-184zM-42,263h158v27h-158zM-42,289h132v27h-132zM-42,315h132v27h-132zM-42,341h106v27h-106zM-42,367h79v27h-79z"/><path fill="#313131" d="M690,27h236v27h-236zM690,53h236v27h-236zM690,79h236v27h-236zM402,106h27v27h-27zM455,106h27v27h-27zM690,106h236v27h-236zM350,132h53v27h-53zM481,132h27v27h-27zM690,132h236v27h-236zM324,158h53v27h-53zM507,158h79v27h-79zM690,158h53v27h-53zM794,158h132v27h-132zM219,184h53v27h-53zM324,184h79v27h-79zM585,184h106v27h-106zM768,184h158v27h-158zM167,210h236v27h-236zM481,210h27v27h-27zM611,210h27v27h-27zM768,210h158v27h-158zM141,236h132v27h-132zM350,236h53v27h-53zM455,236h53v27h-53zM820,236h106v27h-106zM115,263h158v27h-158zM376,263h132v27h-132zM820,263h106v27h-106zM89,289h184v27h-184zM376,289h106v27h-106zM847,289h79v27h-79zM89,315h132v27h-132zM402,315h79v27h-79zM873,315h53v27h-53zM63,341h106v27h-106zM402,341h79v27h-79zM873,341h53v27h-53zM37,367h79v27h-79zM402,367h79v27h-79zM899,367h27v27h-27z"/><path fill="#464646" d="M428,106h27v27h-27zM402,132h27v27h-27zM455,132h27v27h-27zM376,158h27v27h-27zM455,158h53v27h-53zM742,158h53v27h-53zM402,184h184v27h-184zM690,184h79v27h-79zM402,210h79v27h-79zM507,210h27v27h-27zM559,210h53v27h-53zM637,210h27v27h-27zM716,210h53v27h-53zM324,236h27v27h-27zM402,236h53v27h-53zM507,236h27v27h-27zM585,236h79v27h-79zM716,236h106v27h-106zM350,263h27v27h-27zM507,263h27v27h-27zM585,263h53v27h-53zM716,263h106v27h-106zM350,289h27v27h-27zM481,289h27v27h-27zM742,289h106v27h-106zM350,315h27v27h-27zM481,315h27v27h-27zM768,315h106v27h-106zM481,341h27v27h-27zM794,341h79v27h-79zM481,367h27v27h-27zM820,367h79v27h-79z"/><path fill="#5b5b5b" d="M428,132h27v27h-27zM402,158h53v27h-53zM533,210h27v27h-27zM664,210h53v27h-53zM272,236h27v27h-27zM533,236h53v27h-53zM664,236h53v27h-53zM533,263h53v27h-53zM637,263h79v27h-79zM507,289h53v27h-53zM585,289h53v27h-53zM690,289h53v27h-53zM376,315h27v27h-27zM507,315h27v27h-27zM716,315h53v27h-53zM376,341h27v27h-27zM507,341h27v27h-27zM742,341h53v27h-53zM376,367h27v27h-27zM507,367h27v27h-27zM794,367h27v27h-27z"/><path fill="#717171" d="M298,236h27v27h-27zM272,263h27v27h-27zM324,263h27v27h-27zM324,289h27v27h-27zM559,289h27v27h-27zM637,289h53v27h-53zM324,315h27v27h-27zM533,315h27v27h-27zM585,315h53v27h-53zM324,341h53v27h-53zM533,341h106v27h-106zM298,367h79v27h-79zM533,367h79v27h-79z"/><path fill="#868686" d="M298,263h27v27h-27zM272,289h53v27h-53zM219,315h106v27h-106zM559,315h27v27h-27zM167,341h158v27h-158zM115,367h184v27h-184z"/><path fill="#9b9b9b" d="M637,315h79v27h-79zM637,341h106v27h-106zM611,367h184v27h-184z"/>
</g></g>
<use href="#hl"/>
</g>
<g filter="url(#jag)"><use href="#ol" x="0.50" y="0.75"/></g>
</g>
<g transform="translate(173,2833)">
<g clip-path="url(#bc12)"><g filter="url(#f12)"><g transform="translate(0.00,0.40)">
<path fill="#151515" d="M-42,27h210v27h-210zM-42,53h210v27h-210zM-42,79h210v27h-210zM-42,106h236v27h-236zM-42,132h210v27h-210zM-42,158h210v27h-210zM-42,184h210v27h-210zM-42,210h184v27h-184zM-42,236h184v27h-184zM-42,263h158v27h-158zM-42,289h132v27h-132zM-42,315h132v27h-132zM-42,341h106v27h-106zM-42,367h79v27h-79z"/><path fill="#313131" d="M167,27h79v27h-79zM167,53h79v27h-79zM167,79h79v27h-79zM193,106h53v27h-53zM167,132h53v27h-53zM167,158h27v27h-27zM272,184h27v27h-27zM272,210h27v27h-27z"/><path fill="#464646" d="M246,27h132v27h-132zM246,53h132v27h-132zM246,79h132v27h-132zM246,106h106v27h-106zM219,132h132v27h-132zM193,158h132v27h-132zM167,184h53v27h-53zM246,184h27v27h-27zM298,184h27v27h-27zM141,210h27v27h-27zM246,210h27v27h-27zM272,236h27v27h-27z"/><path fill="#717171" d="M376,27h27v27h-27zM794,27h132v27h-132zM376,53h27v27h-27zM794,53h132v27h-132zM376,79h27v27h-27zM794,79h132v27h-132zM794,106h132v27h-132zM350,132h27v27h-27zM794,132h132v27h-132zM794,158h132v27h-132zM350,184h27v27h-27zM611,184h27v27h-27zM794,184h132v27h-132zM324,210h27v27h-27zM585,210h27v27h-27zM794,210h132v27h-132zM298,236h27v27h-27zM820,236h106v27h-106zM272,263h27v27h-27zM820,263h106v27h-106zM847,289h79v27h-79zM873,315h53v27h-53zM873,341h53v27h-53zM899,367h27v27h-27z"/><path fill="#b7b7b7" d="M402,27h27v27h-27zM585,27h79v27h-79zM402,53h27v27h-27zM585,53h79v27h-79zM402,79h27v27h-27zM585,79h53v27h-53zM585,106h53v27h-53zM611,132h27v27h-27zM690,158h53v27h-53zM559,184h27v27h-27zM690,184h53v27h-53zM350,210h27v27h-27zM637,210h79v27h-79zM350,236h27v27h-27zM664,236h27v27h-27zM298,263h106v27h-106zM585,263h27v27h-27zM637,263h27v27h-27zM690,263h79v27h-79zM298,289h106v27h-106zM585,289h53v27h-53zM664,289h132v27h-132zM298,315h210v27h-210zM716,315h106v27h-106zM298,341h210v27h-210zM742,341h106v27h-106zM298,367h210v27h-210zM794,367h79v27h-79z"/><path fill="#cccccc" d="M428,27h106v27h-106zM559,27h27v27h-27zM428,53h79v27h-79zM559,53h27v27h-27zM428,79h79v27h-79zM559,79h27v27h-27zM402,106h27v27h-27zM559,106h27v27h-27zM376,132h27v27h-27zM585,132h27v27h-27zM376,158h27v27h-27zM559,158h27v27h-27zM402,184h27v27h-27zM533,184h27v27h-27zM376,210h27v27h-27zM507,210h27v27h-27zM559,210h27v27h-27zM716,210h53v27h-53zM481,236h53v27h-53zM559,236h27v27h-27zM637,236h27v27h-27zM690,236h132v27h-132zM402,263h106v27h-106zM559,263h27v27h-27zM664,263h27v27h-27zM768,263h53v27h-53zM402,289h106v27h-106zM559,289h27v27h-27zM637,289h27v27h-27zM794,289h53v27h-53zM507,315h53v27h-53zM585,315h132v27h-132zM820,315h53v27h-53zM507,341h236v27h-236zM847,341h27v27h-27zM507,367h288v27h-288zM873,367h27v27h-27z"/><path fill="#eaeaea" d="M533,27h27v27h-27zM507,53h53v27h-53zM507,79h53v27h-53zM428,106h132v27h-132zM402,132h184v27h-184zM402,158h158v27h-158zM428,184h106v27h-106zM402,210h106v27h-106zM533,210h27v27h-27zM376,236h106v27h-106zM533,236h27v27h-27zM507,263h53v27h-53zM507,289h53v27h-53zM559,315h27v27h-27z"/><path fill="#868686" d="M664,27h27v27h-27zM768,27h27v27h-27zM664,53h27v27h-27zM768,53h27v27h-27zM664,79h27v27h-27zM768,79h27v27h-27zM664,106h27v27h-27zM768,106h27v27h-27zM664,132h27v27h-27zM768,132h27v27h-27zM350,158h27v27h-27zM611,158h27v27h-27zM768,158h27v27h-27zM637,184h27v27h-27zM768,184h27v27h-27zM611,210h27v27h-27zM768,210h27v27h-27zM272,289h27v27h-27z"/><path fill="#9b9b9b" d="M690,27h79v27h-79zM690,53h79v27h-79zM637,79h27v27h-27zM690,79h79v27h-79zM376,106h27v27h-27zM637,106h27v27h-27zM690,106h79v27h-79zM637,132h27v27h-27zM690,132h79v27h-79zM585,158h27v27h-27zM637,158h53v27h-53zM742,158h27v27h-27zM376,184h27v27h-27zM585,184h27v27h-27zM664,184h27v27h-27zM742,184h27v27h-27zM324,236h27v27h-27zM585,236h53v27h-53zM611,263h27v27h-27zM219,315h79v27h-79zM167,341h132v27h-132zM115,367h184v27h-184z"/><path fill="#5b5b5b" d="M350,106h27v27h-27zM324,158h27v27h-27zM219,184h27v27h-27zM324,184h27v27h-27zM167,210h79v27h-79zM298,210h27v27h-27zM141,236h132v27h-132zM115,263h158v27h-158zM89,289h184v27h-184zM89,315h132v27h-132zM63,341h106v27h-106zM37,367h79v27h-79z"/>
</g></g>
<use href="#hl"/>
</g>
<g filter="url(#jag)"><use href="#ol" x="0.30" y="0.70"/></g>
</g>
<g transform="translate(1043,2833)">
<g clip-path="url(#bc13)"><g filter="url(#f13)"><g transform="translate(0.20,0.40)">
<path fill="#717171" d="M-42,27h106v27h-106zM89,27h53v27h-53zM716,27h27v27h-27zM-42,53h106v27h-106zM89,53h53v27h-53zM716,53h27v27h-27zM-42,79h79v27h-79zM115,79h27v27h-27zM716,79h27v27h-27zM-42,106h132v27h-132zM716,106h27v27h-27zM-42,132h184v27h-184zM716,132h27v27h-27zM-42,158h184v27h-184zM690,158h53v27h-53zM-42,184h184v27h-184zM690,184h27v27h-27zM-42,210h184v27h-184zM507,210h27v27h-27zM559,210h27v27h-27zM-42,236h184v27h-184zM559,236h27v27h-27zM-42,263h158v27h-158zM533,263h53v27h-53zM-42,289h132v27h-132zM637,289h27v27h-27zM-42,315h132v27h-132zM455,315h27v27h-27zM559,315h27v27h-27zM-42,341h106v27h-106zM455,341h27v27h-27zM559,341h53v27h-53zM-42,367h79v27h-79zM455,367h27v27h-27zM533,367h79v27h-79z"/><path fill="#868686" d="M63,27h27v27h-27zM141,27h27v27h-27zM690,27h27v27h-27zM63,53h27v27h-27zM141,53h27v27h-27zM690,53h27v27h-27zM37,79h79v27h-79zM141,79h27v27h-27zM690,79h27v27h-27zM89,106h79v27h-79zM690,106h27v27h-27zM141,132h27v27h-27zM690,132h27v27h-27zM141,158h27v27h-27zM664,158h27v27h-27zM141,184h27v27h-27zM298,184h53v27h-53zM585,184h106v27h-106zM246,210h27v27h-27zM298,210h27v27h-27zM533,210h27v27h-27zM611,210h53v27h-53zM402,236h27v27h-27zM533,236h27v27h-27zM193,263h79v27h-79zM141,289h158v27h-158zM455,289h27v27h-27zM89,315h132v27h-132zM637,315h79v27h-79zM63,341h106v27h-106zM637,341h106v27h-106zM37,367h79v27h-79zM611,367h184v27h-184z"/><path fill="#9b9b9b" d="M167,27h79v27h-79zM664,27h27v27h-27zM167,53h79v27h-79zM664,53h27v27h-27zM167,79h53v27h-53zM637,79h53v27h-53zM167,106h27v27h-27zM637,106h53v27h-53zM167,132h27v27h-27zM637,132h53v27h-53zM167,158h27v27h-27zM611,158h53v27h-53zM272,184h27v27h-27zM533,184h53v27h-53zM167,210h79v27h-79zM455,210h53v27h-53zM141,236h132v27h-132zM376,236h27v27h-27zM428,236h27v27h-27zM115,263h79v27h-79zM324,263h27v27h-27zM455,263h27v27h-27zM89,289h53v27h-53zM298,289h27v27h-27zM219,315h106v27h-106zM428,315h27v27h-27zM167,341h210v27h-210zM428,341h27v27h-27zM115,367h262v27h-262zM428,367h27v27h-27z"/><path fill="#cccccc" d="M246,27h132v27h-132zM559,27h27v27h-27zM246,53h132v27h-132zM559,53h27v27h-27zM246,79h132v27h-132zM559,79h27v27h-27zM246,106h132v27h-132zM559,106h27v27h-27zM246,132h27v27h-27zM298,132h53v27h-53zM402,132h79v27h-79zM559,132h27v27h-27zM219,158h106v27h-106zM402,158h158v27h-158zM402,184h106v27h-106zM350,263h27v27h-27zM324,289h27v27h-27zM428,289h27v27h-27zM376,315h27v27h-27zM376,341h27v27h-27zM376,367h27v27h-27z"/><path fill="#eaeaea" d="M376,27h184v27h-184zM376,53h184v27h-184zM376,79h184v27h-184zM376,106h184v27h-184zM481,132h79v27h-79zM376,263h79v27h-79zM350,289h79v27h-79z"/><path fill="#b7b7b7" d="M585,27h79v27h-79zM585,53h79v27h-79zM219,79h27v27h-27zM585,79h53v27h-53zM193,106h53v27h-53zM585,106h53v27h-53zM193,132h53v27h-53zM272,132h27v27h-27zM350,132h53v27h-53zM585,132h53v27h-53zM193,158h27v27h-27zM324,158h79v27h-79zM559,158h53v27h-53zM167,184h106v27h-106zM376,184h27v27h-27zM507,184h27v27h-27zM141,210h27v27h-27zM376,210h79v27h-79zM350,236h27v27h-27zM324,315h53v27h-53zM402,315h27v27h-27zM402,341h27v27h-27zM402,367h27v27h-27z"/><path fill="#5b5b5b" d="M742,27h27v27h-27zM742,53h27v27h-27zM742,79h27v27h-27zM742,106h27v27h-27zM742,132h27v27h-27zM742,158h27v27h-27zM716,184h27v27h-27zM272,210h27v27h-27zM585,210h27v27h-27zM272,236h27v27h-27zM324,236h27v27h-27zM455,236h27v27h-27zM507,236h27v27h-27zM585,236h27v27h-27zM637,236h53v27h-53zM272,263h53v27h-53zM585,263h27v27h-27zM637,263h53v27h-53zM507,289h79v27h-79zM664,289h79v27h-79zM481,315h79v27h-79zM585,315h53v27h-53zM716,315h53v27h-53zM481,341h79v27h-79zM611,341h27v27h-27zM742,341h53v27h-53zM481,367h53v27h-53zM794,367h27v27h-27z"/><path fill="#464646" d="M768,27h27v27h-27zM768,53h27v27h-27zM768,79h27v27h-27zM768,106h27v27h-27zM768,132h27v27h-27zM350,184h27v27h-27zM324,210h53v27h-53zM664,210h27v27h-27zM298,236h27v27h-27zM481,236h27v27h-27zM690,236h27v27h-27zM507,263h27v27h-27zM690,263h27v27h-27zM481,289h27v27h-27zM585,289h53v27h-53z"/><path fill="#313131" d="M794,27h132v27h-132zM794,53h132v27h-132zM794,79h132v27h-132zM794,106h132v27h-132zM794,132h132v27h-132zM768,158h158v27h-158zM742,184h184v27h-184zM690,210h27v27h-27zM768,210h158v27h-158zM611,236h27v27h-27zM716,236h27v27h-27zM820,236h106v27h-106zM481,263h27v27h-27zM611,263h27v27h-27zM716,263h53v27h-53zM820,263h106v27h-106zM742,289h53v27h-53zM847,289h79v27h-79zM768,315h53v27h-53zM873,315h53v27h-53zM794,341h53v27h-53zM873,341h53v27h-53zM820,367h53v27h-53zM899,367h27v27h-27z"/><path fill="#151515" d="M716,210h53v27h-53zM742,236h79v27h-79zM768,263h53v27h-53zM794,289h53v27h-53zM820,315h53v27h-53zM847,341h27v27h-27zM873,367h27v27h-27z"/>
</g></g>
<use href="#hl"/>
</g>
<g filter="url(#jag)"><use href="#ol" x="0.50" y="0.70"/></g>
</g>
<g transform="translate(173,3255)">
<g clip-path="url(#bc14)"><g filter="url(#f14)"><g transform="translate(0.00,0.45)">
<path fill="#313131" d="M-42,27h184v27h-184zM585,27h79v27h-79zM-42,53h184v27h-184zM585,53h79v27h-79zM-42,79h79v27h-79zM63,79h79v27h-79zM585,79h53v27h-53zM-42,106h106v27h-106zM89,106h79v27h-79zM585,106h53v27h-53zM-42,132h132v27h-132zM115,132h53v27h-53zM-42,158h132v27h-132zM115,158h53v27h-53zM-42,184h132v27h-132zM115,184h53v27h-53zM-42,210h132v27h-132zM115,210h27v27h-27zM-42,236h132v27h-132zM115,236h27v27h-27zM-42,263h132v27h-132zM-42,289h132v27h-132zM-42,315h132v27h-132zM-42,341h106v27h-106zM-42,367h79v27h-79z"/><path fill="#464646" d="M141,27h106v27h-106zM298,27h79v27h-79zM141,53h106v27h-106zM324,53h53v27h-53zM37,79h27v27h-27zM141,79h106v27h-106zM324,79h53v27h-53zM63,106h27v27h-27zM167,106h79v27h-79zM350,106h27v27h-27zM89,132h27v27h-27zM167,132h79v27h-79zM298,132h27v27h-27zM611,132h27v27h-27zM89,158h27v27h-27zM167,158h53v27h-53zM89,184h27v27h-27zM167,184h53v27h-53zM272,184h53v27h-53zM89,210h27v27h-27zM141,210h27v27h-27zM272,210h27v27h-27zM89,236h27v27h-27zM89,263h27v27h-27z"/><path fill="#5b5b5b" d="M246,27h53v27h-53zM376,27h27v27h-27zM559,27h27v27h-27zM246,53h79v27h-79zM376,53h27v27h-27zM559,53h27v27h-27zM246,79h79v27h-79zM376,79h27v27h-27zM559,79h27v27h-27zM246,106h106v27h-106zM559,106h27v27h-27zM246,132h53v27h-53zM324,132h27v27h-27zM219,158h79v27h-79zM585,158h53v27h-53zM298,210h27v27h-27zM298,236h27v27h-27z"/><path fill="#9b9b9b" d="M402,27h27v27h-27zM533,27h27v27h-27zM664,27h27v27h-27zM742,27h27v27h-27zM402,53h27v27h-27zM533,53h27v27h-27zM664,53h27v27h-27zM742,53h27v27h-27zM402,79h27v27h-27zM533,79h27v27h-27zM664,79h27v27h-27zM742,79h27v27h-27zM428,106h79v27h-79zM533,106h27v27h-27zM664,106h27v27h-27zM742,106h27v27h-27zM402,132h106v27h-106zM664,132h27v27h-27zM742,132h27v27h-27zM350,158h27v27h-27zM402,158h27v27h-27zM742,158h27v27h-27zM350,184h53v27h-53zM559,184h27v27h-27zM637,184h79v27h-79zM350,210h53v27h-53zM455,236h27v27h-27zM690,236h27v27h-27zM664,263h53v27h-53zM402,289h27v27h-27zM481,289h27v27h-27zM664,289h27v27h-27zM402,315h79v27h-79zM402,341h79v27h-79zM402,367h79v27h-79z"/><path fill="#b7b7b7" d="M428,27h106v27h-106zM690,27h53v27h-53zM428,53h106v27h-106zM690,53h53v27h-53zM428,79h106v27h-106zM690,79h53v27h-53zM507,106h27v27h-27zM690,106h53v27h-53zM507,132h79v27h-79zM690,132h53v27h-53zM428,158h106v27h-106zM559,158h27v27h-27zM637,158h106v27h-106zM428,184h27v27h-27zM533,184h27v27h-27zM716,184h53v27h-53zM402,210h27v27h-27zM481,210h27v27h-27zM637,210h132v27h-132zM350,236h53v27h-53zM611,236h79v27h-79zM716,236h106v27h-106zM350,263h79v27h-79zM611,263h53v27h-53zM716,263h106v27h-106zM272,289h27v27h-27zM376,289h27v27h-27zM611,289h53v27h-53zM690,289h158v27h-158zM376,315h27v27h-27zM481,315h27v27h-27zM637,315h236v27h-236zM376,341h27v27h-27zM481,341h27v27h-27zM637,341h236v27h-236zM376,367h27v27h-27zM481,367h27v27h-27zM611,367h288v27h-288z"/><path fill="#868686" d="M768,27h27v27h-27zM768,53h27v27h-27zM637,79h27v27h-27zM768,79h27v27h-27zM402,106h27v27h-27zM637,106h27v27h-27zM768,106h27v27h-27zM637,132h27v27h-27zM768,132h27v27h-27zM324,158h27v27h-27zM376,158h27v27h-27zM768,158h27v27h-27zM324,184h27v27h-27zM402,184h27v27h-27zM585,184h27v27h-27zM768,184h27v27h-27zM324,210h27v27h-27zM611,210h27v27h-27zM768,210h27v27h-27zM324,236h27v27h-27zM481,236h27v27h-27zM272,263h27v27h-27zM428,263h79v27h-79zM428,289h53v27h-53z"/><path fill="#717171" d="M794,27h132v27h-132zM794,53h132v27h-132zM794,79h132v27h-132zM376,106h27v27h-27zM794,106h132v27h-132zM350,132h53v27h-53zM585,132h27v27h-27zM794,132h132v27h-132zM298,158h27v27h-27zM794,158h132v27h-132zM219,184h53v27h-53zM611,184h27v27h-27zM794,184h132v27h-132zM167,210h106v27h-106zM585,210h27v27h-27zM794,210h132v27h-132zM141,236h158v27h-158zM820,236h106v27h-106zM115,263h158v27h-158zM820,263h106v27h-106zM89,289h184v27h-184zM847,289h79v27h-79zM89,315h132v27h-132zM873,315h53v27h-53zM63,341h106v27h-106zM873,341h53v27h-53zM37,367h79v27h-79zM899,367h27v27h-27z"/><path fill="#cccccc" d="M533,158h27v27h-27zM455,184h79v27h-79zM428,210h53v27h-53zM507,210h27v27h-27zM559,210h27v27h-27zM402,236h53v27h-53zM507,236h27v27h-27zM585,236h27v27h-27zM298,263h53v27h-53zM507,263h27v27h-27zM585,263h27v27h-27zM298,289h79v27h-79zM585,289h27v27h-27zM219,315h158v27h-158zM507,315h53v27h-53zM611,315h27v27h-27zM167,341h210v27h-210zM507,341h132v27h-132zM115,367h262v27h-262zM507,367h106v27h-106z"/><path fill="#eaeaea" d="M533,210h27v27h-27zM533,236h53v27h-53zM533,263h53v27h-53zM507,289h79v27h-79zM559,315h53v27h-53z"/>
</g></g>
<use href="#hl"/>
</g>
<g filter="url(#jag)"><use href="#ol" x="0.30" y="0.75"/></g>
</g>
<g transform="translate(1043,3255)">
<g clip-path="url(#bc15)"><g filter="url(#f15)"><g transform="translate(0.20,0.45)">
<path fill="#151515" d="M-42,27h733v27h-733zM-42,53h733v27h-733zM-42,79h733v27h-733zM-42,106h445v27h-445zM507,106h184v27h-184zM-42,132h393v27h-393zM507,132h184v27h-184zM-42,158h367v27h-367zM585,158h106v27h-106zM-42,184h262v27h-262zM272,184h53v27h-53zM-42,210h210v27h-210zM-42,236h184v27h-184zM-42,263h158v27h-158zM-42,289h132v27h-132zM-42,315h132v27h-132zM-42,341h106v27h-106zM-42,367h79v27h-79z"/><path fill="#313131" d="M690,27h236v27h-236zM690,53h236v27h-236zM690,79h236v27h-236zM402,106h27v27h-27zM481,106h27v27h-27zM690,106h236v27h-236zM350,132h53v27h-53zM481,132h27v27h-27zM690,132h236v27h-236zM324,158h53v27h-53zM533,158h53v27h-53zM690,158h27v27h-27zM794,158h132v27h-132zM219,184h53v27h-53zM324,184h53v27h-53zM585,184h79v27h-79zM768,184h158v27h-158zM167,210h210v27h-210zM481,210h27v27h-27zM611,210h27v27h-27zM768,210h158v27h-158zM141,236h132v27h-132zM350,236h53v27h-53zM455,236h53v27h-53zM820,236h106v27h-106zM115,263h158v27h-158zM376,263h132v27h-132zM820,263h106v27h-106zM89,289h184v27h-184zM376,289h106v27h-106zM847,289h79v27h-79zM89,315h132v27h-132zM402,315h79v27h-79zM873,315h53v27h-53zM63,341h106v27h-106zM402,341h79v27h-79zM873,341h53v27h-53zM37,367h79v27h-79zM402,367h79v27h-79zM899,367h27v27h-27z"/><path fill="#5b5b5b" d="M428,106h27v27h-27zM402,132h53v27h-53zM402,158h53v27h-53zM716,184h27v27h-27zM533,210h27v27h-27zM637,210h79v27h-79zM272,236h27v27h-27zM533,236h53v27h-53zM664,236h53v27h-53zM533,263h53v27h-53zM637,263h79v27h-79zM350,289h27v27h-27zM507,289h53v27h-53zM585,289h53v27h-53zM690,289h53v27h-53zM350,315h53v27h-53zM507,315h27v27h-27zM716,315h53v27h-53zM376,341h27v27h-27zM507,341h27v27h-27zM742,341h53v27h-53zM376,367h27v27h-27zM507,367h27v27h-27zM794,367h27v27h-27z"/><path fill="#464646" d="M455,106h27v27h-27zM455,132h27v27h-27zM376,158h27v27h-27zM455,158h79v27h-79zM716,158h79v27h-79zM376,184h210v27h-210zM664,184h53v27h-53zM742,184h27v27h-27zM376,210h106v27h-106zM507,210h27v27h-27zM559,210h53v27h-53zM716,210h53v27h-53zM324,236h27v27h-27zM402,236h53v27h-53zM507,236h27v27h-27zM585,236h79v27h-79zM716,236h106v27h-106zM350,263h27v27h-27zM507,263h27v27h-27zM585,263h53v27h-53zM716,263h106v27h-106zM481,289h27v27h-27zM742,289h106v27h-106zM481,315h27v27h-27zM768,315h106v27h-106zM481,341h27v27h-27zM794,341h79v27h-79zM481,367h27v27h-27zM820,367h79v27h-79z"/><path fill="#868686" d="M298,236h27v27h-27zM298,263h53v27h-53zM272,289h53v27h-53zM664,289h27v27h-27zM219,315h106v27h-106zM559,315h27v27h-27zM167,341h210v27h-210zM559,341h53v27h-53zM115,367h262v27h-262zM533,367h79v27h-79z"/><path fill="#717171" d="M272,263h27v27h-27zM324,289h27v27h-27zM559,289h27v27h-27zM637,289h27v27h-27zM324,315h27v27h-27zM533,315h27v27h-27zM585,315h53v27h-53zM533,341h27v27h-27zM611,341h27v27h-27z"/><path fill="#9b9b9b" d="M637,315h79v27h-79zM664,341h79v27h-79zM664,367h132v27h-132z"/><path fill="#b7b7b7" d="M637,341h27v27h-27zM611,367h53v27h-53z"/>
</g></g>
<use href="#hl"/>
</g>
<g filter="url(#jag)"><use href="#ol" x="0.50" y="0.75"/></g>
</g>
<path d="M183.85,70.70v18.30M183.85,492.75v36.60M183.85,933.10v18.30M314.49,70.70v18.30M314.49,492.75v36.60M314.49,933.10v18.30M445.12,70.70v18.30M445.12,492.75v36.60M445.12,933.10v18.30M575.75,70.70v18.30M575.75,492.75v36.60M575.75,933.10v18.30M706.39,70.70v18.30M706.39,492.75v36.60M706.39,933.10v18.30M837.02,70.70v18.30M837.02,492.75v36.60M837.02,933.10v18.30M967.66,70.70v18.30M967.66,492.75v36.60M967.66,933.10v18.30M1054.05,70.70v18.30M1054.05,492.75v36.60M1054.05,933.10v18.30M1184.68,70.70v18.30M1184.68,492.75v36.60M1184.68,933.10v18.30M1315.32,70.70v18.30M1315.32,492.75v36.60M1315.32,933.10v18.30M1445.95,70.70v18.30M1445.95,492.75v36.60M1445.95,933.10v18.30M1576.59,70.70v18.30M1576.59,492.75v36.60M1576.59,933.10v18.30M1707.22,70.70v18.30M1707.22,492.75v36.60M1707.22,933.10v18.30M1837.86,70.70v18.30M1837.86,492.75v36.60M1837.86,933.10v18.30M154.70,168.95h18.30M1024.90,168.95h36.60M1913.60,168.95h18.30M154.70,299.82h18.30M1024.90,299.82h36.60M1913.60,299.82h18.30M154.70,430.70h18.30M1024.90,430.70h36.60M1913.60,430.70h18.30M154.70,591.00h18.30M1024.90,591.00h36.60M1913.60,591.00h18.30M154.70,721.88h18.30M1024.90,721.88h36.60M1913.60,721.88h18.30M154.70,852.75h18.30M1024.90,852.75h36.60M1913.60,852.75h18.30M183.85,984.85v18.30M183.85,1406.90v36.60M183.85,1847.25v18.30M314.49,984.85v18.30M314.49,1406.90v36.60M314.49,1847.25v18.30M445.12,984.85v18.30M445.12,1406.90v36.60M445.12,1847.25v18.30M575.75,984.85v18.30M575.75,1406.90v36.60M575.75,1847.25v18.30M706.39,984.85v18.30M706.39,1406.90v36.60M706.39,1847.25v18.30M837.02,984.85v18.30M837.02,1406.90v36.60M837.02,1847.25v18.30M967.66,984.85v18.30M967.66,1406.90v36.60M967.66,1847.25v18.30M1054.05,984.85v18.30M1054.05,1406.90v36.60M1054.05,1847.25v18.30M1184.68,984.85v18.30M1184.68,1406.90v36.60M1184.68,1847.25v18.30M1315.32,984.85v18.30M1315.32,1406.90v36.60M1315.32,1847.25v18.30M1445.95,984.85v18.30M1445.95,1406.90v36.60M1445.95,1847.25v18.30M1576.59,984.85v18.30M1576.59,1406.90v36.60M1576.59,1847.25v18.30M1707.22,984.85v18.30M1707.22,1406.90v36.60M1707.22,1847.25v18.30M1837.86,984.85v18.30M1837.86,1406.90v36.60M1837.86,1847.25v18.30M154.70,1083.10h18.30M1024.90,1083.10h36.60M1913.60,1083.10h18.30M154.70,1213.97h18.30M1024.90,1213.97h36.60M1913.60,1213.97h18.30M154.70,1344.85h18.30M1024.90,1344.85h36.60M1913.60,1344.85h18.30M154.70,1505.15h18.30M1024.90,1505.15h36.60M1913.60,1505.15h18.30M154.70,1636.03h18.30M1024.90,1636.03h36.60M1913.60,1636.03h18.30M154.70,1766.90h18.30M1024.90,1766.90h36.60M1913.60,1766.90h18.30M183.85,1899.10v18.30M183.85,2321.15v36.60M183.85,2761.50v18.30M314.49,1899.10v18.30M314.49,2321.15v36.60M314.49,2761.50v18.30M445.12,1899.10v18.30M445.12,2321.15v36.60M445.12,2761.50v18.30M575.75,1899.10v18.30M575.75,2321.15v36.60M575.75,2761.50v18.30M706.39,1899.10v18.30M706.39,2321.15v36.60M706.39,2761.50v18.30M837.02,1899.10v18.30M837.02,2321.15v36.60M837.02,2761.50v18.30M967.66,1899.10v18.30M967.66,2321.15v36.60M967.66,2761.50v18.30M1054.05,1899.10v18.30M1054.05,2321.15v36.60M1054.05,2761.50v18.30M1184.68,1899.10v18.30M1184.68,2321.15v36.60M1184.68,2761.50v18.30M1315.32,1899.10v18.30M1315.32,2321.15v36.60M1315.32,2761.50v18.30M1445.95,1899.10v18.30M1445.95,2321.15v36.60M1445.95,2761.50v18.30M1576.59,1899.10v18.30M1576.59,2321.15v36.60M1576.59,2761.50v18.30M1707.22,1899.10v18.30M1707.22,2321.15v36.60M1707.22,2761.50v18.30M1837.86,1899.10v18.30M1837.86,2321.15v36.60M1837.86,2761.50v18.30M154.70,1997.35h18.30M1024.90,1997.35h36.60M1913.60,1997.35h18.30M154.70,2128.22h18.30M1024.90,2128.22h36.60M1913.60,2128.22h18.30M154.70,2259.10h18.30M1024.90,2259.10h36.60M1913.60,2259.10h18.30M154.70,2419.40h18.30M1024.90,2419.40h36.60M1913.60,2419.40h18.30M154.70,2550.28h18.30M1024.90,2550.28h36.60M1913.60,2550.28h18.30M154.70,2681.15h18.30M1024.90,2681.15h36.60M1913.60,2681.15h18.30M183.85,2815.10v18.30M183.85,3237.15v36.60M183.85,3677.50v18.30M314.49,2815.10v18.30M314.49,3237.15v36.60M314.49,3677.50v18.30M445.12,2815.10v18.30M445.12,3237.15v36.60M445.12,3677.50v18.30M575.75,2815.10v18.30M575.75,3237.15v36.60M575.75,3677.50v18.30M706.39,2815.10v18.30M706.39,3237.15v36.60M706.39,3677.50v18.30M837.02,2815.10v18.30M837.02,3237.15v36.60M837.02,3677.50v18.30M967.66,2815.10v18.30M967.66,3237.15v36.60M967.66,3677.50v18.30M1054.05,2815.10v18.30M1054.05,3237.15v36.60M1054.05,3677.50v18.30M1184.68,2815.10v18.30M1184.68,3237.15v36.60M1184.68,3677.50v18.30M1315.32,2815.10v18.30M1315.32,3237.15v36.60M1315.32,3677.50v18.30M1445.95,2815.10v18.30M1445.95,3237.15v36.60M1445.95,3677.50v18.30M1576.59,2815.10v18.30M1576.59,3237.15v36.60M1576.59,3677.50v18.30M1707.22,2815.10v18.30M1707.22,3237.15v36.60M1707.22,3677.50v18.30M1837.86,2815.10v18.30M1837.86,3237.15v36.60M1837.86,3677.50v18.30M154.70,2913.35h18.30M1024.90,2913.35h36.60M1913.60,2913.35h18.30M154.70,3044.22h18.30M1024.90,3044.22h36.60M1913.60,3044.22h18.30M154.70,3175.10h18.30M1024.90,3175.10h36.60M1913.60,3175.10h18.30M154.70,3335.40h18.30M1024.90,3335.40h36.60M1913.60,3335.40h18.30M154.70,3466.28h18.30M1024.90,3466.28h36.60M1913.60,3466.28h18.30M154.70,3597.15h18.30M1024.90,3597.15h36.60M1913.60,3597.15h18.30" fill="none" stroke="#000" stroke-width="2"/>
<path d="M173.00,89.00H1913.60V933.10H173.00ZM1043.20,89.00V933.10M173.00,511.05H1913.60M173.00,1003.15H1913.60V1847.25H173.00ZM1043.20,1003.15V1847.25M173.00,1425.20H1913.60M173.00,1917.40H1913.60V2761.50H173.00ZM1043.20,1917.40V2761.50M173.00,2339.45H1913.60M173.00,2833.40H1913.60V3677.50H173.00ZM1043.20,2833.40V3677.50M173.00,3255.45H1913.60" fill="none" stroke="#000" stroke-width="3.1" stroke-linejoin="miter"/>
<g font-size="34.2" text-anchor="middle">
<text x="184.8" y="67.5">90°</text>
<text x="184.8" y="979.1">90°</text>
<text x="315.5" y="67.5">95°</text>
<text x="315.5" y="979.1">95°</text>
<text x="446.1" y="67.5">100°</text>
<text x="446.1" y="979.1">100°</text>
<text x="576.8" y="67.5">105°</text>
<text x="576.8" y="979.1">105°</text>
<text x="707.4" y="67.5">110°</text>
<text x="707.4" y="979.1">110°</text>
<text x="838.0" y="67.5">115°</text>
<text x="838.0" y="979.1">115°</text>
<text x="968.7" y="67.5">120°</text>
<text x="968.7" y="979.1">120°</text>
<text x="1055.0" y="67.5">90°</text>
<text x="1055.0" y="979.1">90°</text>
<text x="1185.7" y="67.5">95°</text>
<text x="1185.7" y="979.1">95°</text>
<text x="1316.3" y="67.5">100°</text>
<text x="1316.3" y="979.1">100°</text>
<text x="1447.0" y="67.5">105°</text>
<text x="1447.0" y="979.1">105°</text>
<text x="1577.6" y="67.5">110°</text>
<text x="1577.6" y="979.1">110°</text>
<text x="1708.2" y="67.5">115°</text>
<text x="1708.2" y="979.1">115°</text>
<text x="1838.9" y="67.5">120°</text>
<text x="1838.9" y="979.1">120°</text>
<text transform="translate(152.0,169.9) rotate(-90)">35°</text>
<text transform="translate(1959.0,169.9) rotate(-90)">35°</text>
<text transform="translate(152.0,300.8) rotate(-90)">30°</text>
<text transform="translate(1959.0,300.8) rotate(-90)">30°</text>
<text transform="translate(152.0,431.7) rotate(-90)">25°</text>
<text transform="translate(1959.0,431.7) rotate(-90)">25°</text>
<text transform="translate(152.0,592.0) rotate(-90)">35°</text>
<text transform="translate(1959.0,592.0) rotate(-90)">35°</text>
<text transform="translate(152.0,722.9) rotate(-90)">30°</text>
<text transform="translate(1959.0,722.9) rotate(-90)">30°</text>
<text transform="translate(152.0,853.8) rotate(-90)">25°</text>
<text transform="translate(1959.0,853.8) rotate(-90)">25°</text>
<text x="184.8" y="1893.2">90°</text>
<text x="315.5" y="1893.2">95°</text>
<text x="446.1" y="1893.2">100°</text>
<text x="576.8" y="1893.2">105°</text>
<text x="707.4" y="1893.2">110°</text>
<text x="838.0" y="1893.2">115°</text>
<text x="968.7" y="1893.2">120°</text>
<text x="1055.0" y="1893.2">90°</text>
<text x="1185.7" y="1893.2">95°</text>
<text x="1316.3" y="1893.2">100°</text>
<text x="1447.0" y="1893.2">105°</text>
<text x="1577.6" y="1893.2">110°</text>
<text x="1708.2" y="1893.2">115°</text>
<text x="1838.9" y="1893.2">120°</text>
<text transform="translate(152.0,1084.1) rotate(-90)">35°</text>
<text transform="translate(1959.0,1084.1) rotate(-90)">35°</text>
<text transform="translate(152.0,1215.0) rotate(-90)">30°</text>
<text transform="translate(1959.0,1215.0) rotate(-90)">30°</text>
<text transform="translate(152.0,1345.8) rotate(-90)">25°</text>
<text transform="translate(1959.0,1345.8) rotate(-90)">25°</text>
<text transform="translate(152.0,1506.2) rotate(-90)">35°</text>
<text transform="translate(1959.0,1506.2) rotate(-90)">35°</text>
<text transform="translate(152.0,1637.0) rotate(-90)">30°</text>
<text transform="translate(1959.0,1637.0) rotate(-90)">30°</text>
<text transform="translate(152.0,1767.9) rotate(-90)">25°</text>
<text transform="translate(1959.0,1767.9) rotate(-90)">25°</text>
<text x="184.8" y="2807.5">90°</text>
<text x="315.5" y="2807.5">95°</text>
<text x="446.1" y="2807.5">100°</text>
<text x="576.8" y="2807.5">105°</text>
<text x="707.4" y="2807.5">110°</text>
<text x="838.0" y="2807.5">115°</text>
<text x="968.7" y="2807.5">120°</text>
<text x="1055.0" y="2807.5">90°</text>
<text x="1185.7" y="2807.5">95°</text>
<text x="1316.3" y="2807.5">100°</text>
<text x="1447.0" y="2807.5">105°</text>
<text x="1577.6" y="2807.5">110°</text>
<text x="1708.2" y="2807.5">115°</text>
<text x="1838.9" y="2807.5">120°</text>
<text transform="translate(152.0,1998.4) rotate(-90)">35°</text>
<text transform="translate(1959.0,1998.4) rotate(-90)">35°</text>
<text transform="translate(152.0,2129.2) rotate(-90)">30°</text>
<text transform="translate(1959.0,2129.2) rotate(-90)">30°</text>
<text transform="translate(152.0,2260.1) rotate(-90)">25°</text>
<text transform="translate(1959.0,2260.1) rotate(-90)">25°</text>
<text transform="translate(152.0,2420.4) rotate(-90)">35°</text>
<text transform="translate(1959.0,2420.4) rotate(-90)">35°</text>
<text transform="translate(152.0,2551.3) rotate(-90)">30°</text>
<text transform="translate(1959.0,2551.3) rotate(-90)">30°</text>
<text transform="translate(152.0,2682.2) rotate(-90)">25°</text>
<text transform="translate(1959.0,2682.2) rotate(-90)">25°</text>
<text x="184.8" y="3723.5">90°</text>
<text x="315.5" y="3723.5">95°</text>
<text x="446.1" y="3723.5">100°</text>
<text x="576.8" y="3723.5">105°</text>
<text x="707.4" y="3723.5">110°</text>
<text x="838.0" y="3723.5">115°</text>
<text x="968.7" y="3723.5">120°</text>
<text x="1055.0" y="3723.5">90°</text>
<text x="1185.7" y="3723.5">95°</text>
<text x="1316.3" y="3723.5">100°</text>
<text x="1447.0" y="3723.5">105°</text>
<text x="1577.6" y="3723.5">110°</text>
<text x="1708.2" y="3723.5">115°</text>
<text x="1838.9" y="3723.5">120°</text>
<text transform="translate(152.0,2914.3) rotate(-90)">35°</text>
<text transform="translate(1959.0,2914.3) rotate(-90)">35°</text>
<text transform="translate(152.0,3045.2) rotate(-90)">30°</text>
<text transform="translate(1959.0,3045.2) rotate(-90)">30°</text>
<text transform="translate(152.0,3176.1) rotate(-90)">25°</text>
<text transform="translate(1959.0,3176.1) rotate(-90)">25°</text>
<text transform="translate(152.0,3336.4) rotate(-90)">35°</text>
<text transform="translate(1959.0,3336.4) rotate(-90)">35°</text>
<text transform="translate(152.0,3467.3) rotate(-90)">30°</text>
<text transform="translate(1959.0,3467.3) rotate(-90)">30°</text>
<text transform="translate(152.0,3598.2) rotate(-90)">25°</text>
<text transform="translate(1959.0,3598.2) rotate(-90)">25°</text>
</g>
<g font-size="48.5" text-anchor="end">
<text x="1042.7" y="131.8">Spring</text>
<text x="1909.5" y="131.8">Summer</text>
<text x="1042.7" y="553.9">Autumn</text>
<text x="1909.5" y="553.9">Winter</text>
<text x="1042.7" y="1046.5">Spring</text>
<text x="1909.5" y="1046.5">Summer</text>
<text x="1042.7" y="1468.5">Autumn</text>
<text x="1909.5" y="1468.5">Winter</text>
<text x="1042.7" y="1961.3">Spring</text>
<text x="1909.5" y="1961.3">Summer</text>
<text x="1042.7" y="2383.4">Autumn</text>
<text x="1909.5" y="2383.4">Winter</text>
<text x="1042.7" y="2878.4">Spring</text>
<text x="1909.5" y="2878.4">Summer</text>
<text x="1042.7" y="3300.5">Autumn</text>
<text x="1909.5" y="3300.5">Winter</text>
</g>
<g font-size="58" text-anchor="middle">
<text transform="translate(84.0,496.0) rotate(-90)">(a) SSP1-2.6</text>
<text transform="translate(84.0,1417.5) rotate(-90)">(b) SSP2-4.5</text>
<text transform="translate(84.0,2319.5) rotate(-90)">(c) SSP3-7.0</text>
<text transform="translate(84.0,3225.0) rotate(-90)">(d) SSP5-8.5</text>
</g>
<rect x="335.2" y="3740.3" width="130.5" height="74.0" fill="#00a600"/>
<rect x="465.2" y="3740.3" width="130.5" height="74.0" fill="#00c000"/>
<rect x="595.2" y="3740.3" width="130.5" height="74.0" fill="#7adc00"/>
<rect x="725.2" y="3740.3" width="130.5" height="74.0" fill="#d2f400"/>
<rect x="855.2" y="3740.3" width="130.5" height="74.0" fill="#ffdf00"/>
<rect x="985.2" y="3740.3" width="130.5" height="74.0" fill="#ff9700"/>
<rect x="1115.2" y="3740.3" width="130.5" height="74.0" fill="#ff4c08"/>
<rect x="1245.2" y="3740.3" width="130.0" height="74.0" fill="#ff0000"/>
<g font-size="37" text-anchor="middle">
<text x="453.2" y="3849">20</text>
<text x="593.7" y="3849">50</text>
<text x="727.7" y="3849">100</text>
<text x="857.7" y="3849">150</text>
<text x="987.7" y="3849">200</text>
<text x="1117.7" y="3849">250</text>
<text x="1247.7" y="3849">300</text>
</g>
<text x="1433" y="3793.5" font-size="48.5">gC/m²/mon</text>
<text x="1413" y="3791" font-size="52" transform="translate(1413,0) scale(0.8,1) translate(-1413,0)">(</text>
<text x="1673" y="3791" font-size="52" text-anchor="end" transform="translate(1673,0) scale(0.8,1) translate(-1673,0)">)</text>
</svg></body></html>
